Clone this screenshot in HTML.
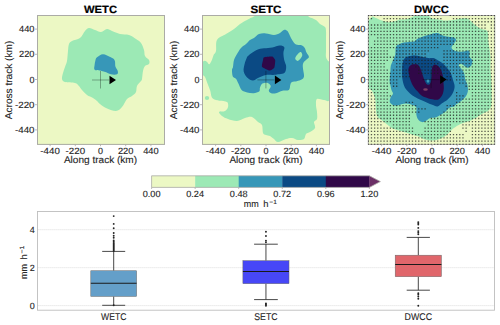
<!DOCTYPE html>
<html><head><meta charset="utf-8"><style>
html,body{margin:0;padding:0;background:#fff;width:500px;height:325px;overflow:hidden;position:relative;font-family:"Liberation Sans",sans-serif;}
</style></head><body>
<svg width="500" height="325" viewBox="0 0 500 325" style="position:absolute;left:0;top:0" text-rendering="geometricPrecision">
<defs><clipPath id="c1"><rect x="37" y="15" width="128" height="130"/></clipPath><clipPath id="c2"><rect x="202" y="15" width="128" height="130"/></clipPath><clipPath id="cd"><rect x="368" y="15.1" width="127" height="129.7"/></clipPath><clipPath id="c3"><rect x="368" y="15" width="127.2" height="130"/></clipPath></defs>
<g clip-path="url(#c1)"><rect x="37" y="15" width="128" height="130" fill="#ecf8c4"/>
<path d="M89.00,28.00C90.67,27.83 93.00,29.33 95.00,30.00C97.00,30.67 99.00,32.17 101.00,32.00C103.00,31.83 105.17,29.17 107.00,29.00C108.83,28.83 109.83,30.17 112.00,31.00C114.17,31.83 117.17,33.33 120.00,34.00C122.83,34.67 126.33,34.17 129.00,35.00C131.67,35.83 134.00,37.67 136.00,39.00C138.00,40.33 139.67,41.17 141.00,43.00C142.33,44.83 143.33,47.83 144.00,50.00C144.67,52.17 144.17,54.33 145.00,56.00C145.83,57.67 148.33,58.67 149.00,60.00C149.67,61.33 149.67,63.00 149.00,64.00C148.33,65.00 146.00,64.83 145.00,66.00C144.00,67.17 143.50,68.83 143.00,71.00C142.50,73.17 142.33,77.33 142.00,79.00C141.67,80.67 141.83,79.83 141.00,81.00C140.17,82.17 137.83,84.17 137.00,86.00C136.17,87.83 136.83,90.33 136.00,92.00C135.17,93.67 133.50,94.83 132.00,96.00C130.50,97.17 128.67,97.17 127.00,99.00C125.33,100.83 123.83,105.00 122.00,107.00C120.17,109.00 118.67,110.83 116.00,111.00C113.33,111.17 108.67,109.17 106.00,108.00C103.33,106.83 101.50,105.17 100.00,104.00C98.50,102.83 98.17,102.00 97.00,101.00C95.83,100.00 94.67,99.00 93.00,98.00C91.33,97.00 88.83,96.33 87.00,95.00C85.17,93.67 83.33,91.50 82.00,90.00C80.67,88.50 80.17,87.17 79.00,86.00C77.83,84.83 77.33,83.67 75.00,83.00C72.67,82.33 67.17,82.67 65.00,82.00C62.83,81.33 62.33,80.50 62.00,79.00C61.67,77.50 62.50,75.00 63.00,73.00C63.50,71.00 64.33,69.00 65.00,67.00C65.67,65.00 66.50,63.67 67.00,61.00C67.50,58.33 67.67,53.83 68.00,51.00C68.33,48.17 68.33,45.67 69.00,44.00C69.67,42.33 70.17,42.00 72.00,41.00C73.83,40.00 77.83,39.67 80.00,38.00C82.17,36.33 83.50,32.67 85.00,31.00C86.50,29.33 87.33,28.17 89.00,28.00Z" fill="#9ce9b5"/>
<path d="M97.00,57.30C98.27,56.27 100.70,54.20 103.00,54.20C105.30,54.20 108.85,56.27 110.80,57.30C112.75,58.33 113.93,58.85 114.70,60.40C115.47,61.95 114.88,64.80 115.40,66.60C115.92,68.40 117.53,69.92 117.80,71.20C118.07,72.48 118.17,73.78 117.00,74.30C115.83,74.82 112.73,74.68 110.80,74.30C108.87,73.92 107.20,72.65 105.40,72.00C103.60,71.35 101.80,70.78 100.00,70.40C98.20,70.02 95.50,70.60 94.60,69.70C93.70,68.80 94.47,66.55 94.60,65.00C94.73,63.45 95.00,61.68 95.40,60.40C95.80,59.12 95.73,58.33 97.00,57.30Z" fill="#3797b8"/>
</g>
<g clip-path="url(#c2)"><rect x="202" y="15" width="128" height="130" fill="#ecf8c4"/>
<path d="M262.00,15.00C270.67,14.58 296.17,14.67 304.00,15.00C311.83,15.33 307.00,16.17 309.00,17.00C311.00,17.83 314.17,18.83 316.00,20.00C317.83,21.17 318.50,22.83 320.00,24.00C321.50,25.17 324.00,25.83 325.00,27.00C326.00,28.17 325.83,29.00 326.00,31.00C326.17,33.00 326.00,35.67 326.00,39.00C326.00,42.33 326.00,48.00 326.00,51.00C326.00,54.00 325.67,55.33 326.00,57.00C326.33,58.67 327.33,59.67 328.00,61.00C328.67,62.33 329.67,58.83 330.00,65.00C330.33,71.17 331.00,92.17 330.00,98.00C329.00,103.83 326.17,99.83 324.00,100.00C321.83,100.17 318.33,98.17 317.00,99.00C315.67,99.83 316.00,102.83 316.00,105.00C316.00,107.17 316.83,109.67 317.00,112.00C317.17,114.33 317.50,117.33 317.00,119.00C316.50,120.67 314.33,120.50 314.00,122.00C313.67,123.50 315.67,126.33 315.00,128.00C314.33,129.67 311.50,131.00 310.00,132.00C308.50,133.00 307.00,132.83 306.00,134.00C305.00,135.17 305.33,138.00 304.00,139.00C302.67,140.00 300.00,140.17 298.00,140.00C296.00,139.83 294.00,138.17 292.00,138.00C290.00,137.83 288.33,138.33 286.00,139.00C283.67,139.67 280.00,142.00 278.00,142.00C276.00,142.00 275.33,140.00 274.00,139.00C272.67,138.00 271.33,136.67 270.00,136.00C268.67,135.33 267.17,135.50 266.00,135.00C264.83,134.50 263.67,134.67 263.00,133.00C262.33,131.33 262.83,126.83 262.00,125.00C261.17,123.17 259.67,123.33 258.00,122.00C256.33,120.67 254.17,117.67 252.00,117.00C249.83,116.33 247.50,117.33 245.00,118.00C242.50,118.67 239.83,120.83 237.00,121.00C234.17,121.17 230.50,119.83 228.00,119.00C225.50,118.17 223.50,117.17 222.00,116.00C220.50,114.83 218.50,112.83 219.00,112.00C219.50,111.17 223.50,111.83 225.00,111.00C226.50,110.17 227.67,108.50 228.00,107.00C228.33,105.50 228.42,103.03 227.00,102.00C225.58,100.97 221.32,101.13 219.50,100.80C217.68,100.47 217.37,100.57 216.10,100.00C214.83,99.43 212.88,98.97 211.90,97.40C210.92,95.83 210.92,92.87 210.20,90.60C209.48,88.33 208.47,86.07 207.60,83.80C206.73,81.53 205.93,78.70 205.00,77.00C204.07,75.30 202.50,75.85 202.00,73.60C201.50,71.35 201.63,65.62 202.00,63.50C202.37,61.38 203.40,61.18 204.20,60.90C205.00,60.62 205.95,61.23 206.80,61.80C207.65,62.37 208.45,64.60 209.30,64.30C210.15,64.00 211.18,61.55 211.90,60.00C212.62,58.45 212.92,56.50 213.60,55.00C214.28,53.50 215.43,53.50 216.00,51.00C216.57,48.50 215.33,42.83 217.00,40.00C218.67,37.17 223.17,35.83 226.00,34.00C228.83,32.17 231.67,30.67 234.00,29.00C236.33,27.33 237.83,25.50 240.00,24.00C242.17,22.50 245.00,21.08 247.00,20.00C249.00,18.92 249.50,18.33 252.00,17.50C254.50,16.67 253.33,15.42 262.00,15.00Z" fill="#9ce9b5"/>
<ellipse cx="207" cy="98" rx="2.2" ry="2" fill="#9ce9b5"/>
<path d="M232.00,70.00C231.97,71.57 232.13,74.93 232.80,76.40C233.47,77.87 235.07,77.60 236.00,78.80C236.93,80.00 237.47,81.73 238.40,83.60C239.33,85.47 240.13,88.53 241.60,90.00C243.07,91.47 245.20,91.87 247.20,92.40C249.20,92.93 251.60,93.33 253.60,93.20C255.60,93.07 258.13,92.53 259.20,91.60C260.27,90.67 259.47,88.93 260.00,87.60C260.53,86.27 261.20,84.40 262.40,83.60C263.60,82.80 265.87,82.53 267.20,82.80C268.53,83.07 269.87,84.40 270.40,85.20C270.93,86.00 270.67,86.67 270.40,87.60C270.13,88.53 268.67,89.87 268.80,90.80C268.93,91.73 270.00,92.80 271.20,93.20C272.40,93.60 274.13,93.60 276.00,93.20C277.87,92.80 280.27,91.33 282.40,90.80C284.53,90.27 287.47,91.07 288.80,90.00C290.13,88.93 289.87,85.73 290.40,84.40C290.93,83.07 290.93,82.53 292.00,82.00C293.07,81.47 295.20,81.60 296.80,81.20C298.40,80.80 300.40,80.40 301.60,79.60C302.80,78.80 303.73,78.00 304.00,76.40C304.27,74.80 303.40,71.92 303.20,70.00C303.00,68.08 302.67,66.27 302.80,64.90C302.93,63.53 303.38,62.72 304.00,61.80C304.62,60.88 305.68,60.22 306.50,59.40C307.32,58.58 308.90,58.03 308.90,56.90C308.90,55.77 307.22,54.13 306.50,52.60C305.78,51.07 305.43,48.93 304.60,47.70C303.77,46.47 302.93,45.72 301.50,45.20C300.07,44.68 297.53,45.42 296.00,44.60C294.47,43.78 293.33,41.83 292.30,40.30C291.27,38.77 290.62,36.93 289.80,35.40C288.98,33.87 288.32,32.03 287.40,31.10C286.48,30.17 285.53,29.50 284.30,29.80C283.07,30.10 281.72,32.03 280.00,32.90C278.28,33.77 276.33,34.92 274.00,35.00C271.67,35.08 268.50,33.57 266.00,33.40C263.50,33.23 261.00,33.23 259.00,34.00C257.00,34.77 255.50,37.00 254.00,38.00C252.50,39.00 251.33,39.00 250.00,40.00C248.67,41.00 247.50,42.67 246.00,44.00C244.50,45.33 242.50,46.33 241.00,48.00C239.50,49.67 238.17,52.00 237.00,54.00C235.83,56.00 234.67,57.83 234.00,60.00C233.33,62.17 233.33,65.33 233.00,67.00C232.67,68.67 232.03,68.43 232.00,70.00Z" fill="#3797b8"/>
<path d="M295.40,57.50C295.82,56.37 297.58,54.12 298.50,53.20C299.42,52.28 300.28,51.58 300.90,52.00C301.52,52.42 302.60,54.27 302.20,55.70C301.80,57.13 299.53,59.88 298.50,60.60C297.47,61.32 296.52,60.52 296.00,60.00C295.48,59.48 294.98,58.63 295.40,57.50Z" fill="#9ce9b5"/>
<path d="M248.30,55.70C249.98,54.30 253.98,51.33 256.60,50.10C259.22,48.87 261.38,48.75 264.00,48.30C266.62,47.85 269.68,47.87 272.30,47.40C274.92,46.93 277.70,45.53 279.70,45.50C281.70,45.47 283.68,45.97 284.30,47.20C284.92,48.43 283.40,50.72 283.40,52.90C283.40,55.08 283.85,58.15 284.30,60.30C284.75,62.45 285.88,64.02 286.10,65.80C286.32,67.58 286.05,69.73 285.60,71.00C285.15,72.27 284.67,72.85 283.40,73.40C282.13,73.95 279.70,74.03 278.00,74.30C276.30,74.57 275.23,74.88 273.20,75.00C271.17,75.12 268.25,74.53 265.80,75.00C263.35,75.47 260.65,76.87 258.50,77.80C256.35,78.73 254.75,80.60 252.90,80.60C251.05,80.60 248.93,79.33 247.40,77.80C245.87,76.27 244.17,73.70 243.70,71.40C243.23,69.10 244.13,66.15 244.60,64.00C245.07,61.85 245.88,59.88 246.50,58.50C247.12,57.12 246.62,57.10 248.30,55.70Z" fill="#0b4a84"/>
<path d="M264.00,57.30C264.77,56.98 271.37,56.25 272.30,56.50C273.23,56.75 275.03,59.37 275.20,60.30C275.37,61.23 274.78,66.84 274.30,67.70C273.82,68.56 270.52,70.67 269.50,70.60C268.48,70.52 262.54,67.66 262.00,66.80C261.46,65.94 262.83,61.09 263.00,60.30C263.17,59.51 263.23,57.62 264.00,57.30Z" fill="#300848"/>
</g>
<g clip-path="url(#c3)"><rect x="368" y="15" width="127.2" height="130" fill="#9ce9b5"/>
<path d="M368.00,15.00 L373.80,15.00 L368.00,21.00Z" fill="#ecf8c4"/>
<path d="M374.00,15.00C368.38,15.67 376.73,18.00 378.30,19.00C379.87,20.00 381.70,20.45 383.40,21.00C385.10,21.55 386.80,22.20 388.50,22.30C390.20,22.40 391.88,22.03 393.60,21.60C395.32,21.17 397.23,20.05 398.80,19.70C400.37,19.35 401.33,19.72 403.00,19.50C404.67,19.28 407.30,19.15 408.80,18.40C410.30,17.65 417.80,15.57 412.00,15.00C406.20,14.43 379.62,14.33 374.00,15.00Z" fill="#ecf8c4"/>
<path d="M428.00,15.00C428.67,15.57 430.40,17.70 432.00,18.40C433.60,19.10 436.00,18.93 437.60,19.20C439.20,19.47 440.18,19.77 441.60,20.00C443.02,20.23 444.20,20.58 446.10,20.60C448.00,20.62 450.72,20.42 453.00,20.10C455.28,19.78 457.55,19.00 459.80,18.70C462.05,18.40 464.70,17.95 466.50,18.30C468.30,18.65 469.23,19.72 470.60,20.80C471.97,21.88 473.35,23.68 474.70,24.80C476.05,25.92 477.35,26.70 478.70,27.50C480.05,28.30 481.45,29.10 482.80,29.60C484.15,30.10 485.90,29.72 486.80,30.50C487.70,31.28 487.97,32.77 488.20,34.30C488.43,35.83 488.08,37.90 488.20,39.70C488.32,41.50 488.67,43.52 488.90,45.10C489.13,46.68 489.38,47.62 489.60,49.20C489.82,50.78 490.03,52.80 490.20,54.60C490.37,56.40 490.57,57.82 490.60,60.00C490.63,62.18 490.33,65.03 490.40,67.70C490.47,70.37 490.82,72.62 491.00,76.00C491.18,79.38 491.40,84.00 491.50,88.00C491.60,92.00 491.70,96.87 491.60,100.00C491.50,103.13 491.47,105.00 490.90,106.80C490.33,108.60 489.55,109.68 488.20,110.80C486.85,111.92 484.60,112.48 482.80,113.50C481.00,114.52 479.67,115.65 477.40,116.90C475.13,118.15 471.92,119.87 469.20,121.00C466.48,122.13 463.63,122.55 461.10,123.70C458.57,124.85 455.77,126.67 454.00,127.90C452.23,129.13 451.73,129.92 450.50,131.10C449.27,132.28 448.10,133.82 446.60,135.00C445.10,136.18 443.43,137.33 441.50,138.20C439.57,139.07 437.17,139.87 435.00,140.20C432.83,140.53 430.43,140.42 428.50,140.20C426.57,139.98 425.12,139.55 423.40,138.90C421.68,138.25 420.13,137.05 418.20,136.30C416.27,135.55 414.17,135.12 411.80,134.40C409.43,133.68 406.95,132.88 404.00,132.00C401.05,131.12 396.65,130.15 394.10,129.10C391.55,128.05 390.73,127.17 388.70,125.70C386.67,124.23 383.82,121.88 381.90,120.30C379.98,118.72 378.22,118.23 377.20,116.20C376.18,114.17 376.13,110.98 375.80,108.10C375.47,105.22 375.80,101.72 375.20,98.90C374.60,96.08 373.35,92.98 372.20,91.20C371.05,89.42 368.95,88.70 368.30,88.20 L368,145 L496,145 L496,15 Z" fill="#ecf8c4"/>
<path d="M396.00,46.50C396.78,44.65 398.60,44.55 399.90,43.90C401.20,43.25 402.30,42.93 403.80,42.60C405.30,42.27 407.20,42.08 408.90,41.90C410.60,41.72 412.48,42.07 414.00,41.50C415.52,40.93 416.50,39.33 418.00,38.50C419.50,37.67 421.33,37.08 423.00,36.50C424.67,35.92 426.33,35.50 428.00,35.00C429.67,34.50 431.50,33.83 433.00,33.50C434.50,33.17 435.83,32.92 437.00,33.00C438.17,33.08 438.83,33.50 440.00,34.00C441.17,34.50 442.33,35.50 444.00,36.00C445.67,36.50 448.33,36.75 450.00,37.00C451.67,37.25 453.00,37.00 454.00,37.50C455.00,38.00 456.00,39.00 456.00,40.00C456.00,41.00 454.75,42.25 454.00,43.50C453.25,44.75 451.45,46.32 451.50,47.50C451.55,48.68 453.00,49.88 454.30,50.60C455.60,51.32 457.55,51.70 459.30,51.80C461.05,51.90 463.33,51.40 464.80,51.20C466.27,51.00 467.27,50.32 468.10,50.60C468.93,50.88 469.60,51.97 469.80,52.90C470.00,53.83 469.12,55.28 469.30,56.20C469.48,57.12 470.35,57.67 470.90,58.40C471.45,59.13 472.42,59.77 472.60,60.60C472.78,61.43 472.28,62.48 472.00,63.40C471.72,64.32 471.55,65.37 470.90,66.10C470.25,66.83 469.02,67.70 468.10,67.80C467.18,67.90 466.32,67.25 465.40,66.70C464.48,66.15 463.53,64.97 462.60,64.50C461.67,64.03 460.45,63.72 459.80,63.90C459.15,64.08 458.60,64.95 458.70,65.60C458.80,66.25 459.75,66.97 460.40,67.80C461.05,68.63 461.95,69.58 462.60,70.60C463.25,71.62 463.83,72.33 464.30,73.90C464.77,75.47 464.92,78.30 465.40,80.00C465.88,81.70 466.78,82.30 467.20,84.10C467.62,85.90 468.12,88.77 467.90,90.80C467.68,92.83 467.03,94.60 465.90,96.30C464.77,98.00 462.75,99.63 461.10,101.00C459.45,102.37 457.18,103.57 456.00,104.50C454.82,105.43 455.13,106.03 454.00,106.60C452.87,107.17 450.65,107.03 449.20,107.90C447.75,108.77 446.92,110.52 445.30,111.80C443.68,113.08 441.22,114.63 439.50,115.60C437.78,116.57 436.62,117.17 435.00,117.60C433.38,118.03 431.30,117.67 429.80,118.20C428.30,118.73 427.28,120.15 426.00,120.80C424.72,121.45 423.40,122.32 422.10,122.10C420.80,121.88 419.17,120.80 418.20,119.50C417.23,118.20 416.62,116.35 416.30,114.30C415.98,112.25 417.18,108.83 416.30,107.20C415.42,105.57 412.72,105.12 411.00,104.50C409.28,103.88 407.60,103.53 406.00,103.50C404.40,103.47 402.93,103.92 401.40,104.30C399.87,104.68 398.20,105.68 396.80,105.80C395.40,105.92 394.17,105.63 393.00,105.00C391.83,104.37 390.20,103.27 389.80,102.00C389.40,100.73 390.07,98.82 390.60,97.40C391.13,95.98 392.87,94.78 393.00,93.50C393.13,92.22 391.93,91.62 391.40,89.70C390.87,87.78 390.07,83.83 389.80,82.00C389.53,80.17 389.72,80.33 389.80,78.70C389.88,77.07 390.13,74.35 390.30,72.20C390.47,70.05 390.43,67.58 390.80,65.80C391.17,64.02 391.77,63.30 392.50,61.50C393.23,59.70 394.62,57.50 395.20,55.00C395.78,52.50 395.22,48.35 396.00,46.50Z" fill="#3797b8"/>
<path d="M402.70,62.50C403.15,60.70 403.77,59.25 404.80,58.20C405.83,57.15 407.13,56.65 408.90,56.20C410.67,55.75 413.23,55.40 415.40,55.50C417.57,55.60 419.75,56.37 421.90,56.80C424.05,57.23 426.37,57.88 428.30,58.10C430.23,58.32 431.77,57.67 433.50,58.10C435.23,58.53 437.18,59.83 438.70,60.70C440.22,61.57 441.30,62.22 442.60,63.30C443.90,64.38 445.38,65.98 446.50,67.20C447.62,68.42 448.47,69.30 449.30,70.60C450.13,71.90 450.88,73.43 451.50,75.00C452.12,76.57 452.48,78.17 453.00,80.00C453.52,81.83 454.52,84.07 454.60,86.00C454.68,87.93 454.10,89.92 453.50,91.60C452.90,93.28 452.02,94.75 451.00,96.10C449.98,97.45 448.90,98.50 447.40,99.70C445.90,100.90 443.65,102.17 442.00,103.30C440.35,104.43 439.00,106.20 437.50,106.50C436.00,106.80 434.80,105.78 433.00,105.10C431.20,104.42 428.80,103.30 426.70,102.40C424.60,101.50 422.35,100.60 420.40,99.70C418.45,98.80 416.73,98.03 415.00,97.00C413.27,95.97 411.58,94.92 410.00,93.50C408.42,92.08 406.63,90.25 405.50,88.50C404.37,86.75 403.77,85.00 403.20,83.00C402.63,81.00 402.28,78.83 402.10,76.50C401.92,74.17 402.00,71.33 402.10,69.00C402.20,66.67 402.25,64.30 402.70,62.50Z" fill="#0b4a84"/>
<path d="M408.90,67.20C409.38,66.00 410.63,65.28 411.50,64.80C412.37,64.32 413.10,64.35 414.10,64.30C415.10,64.25 416.58,64.05 417.50,64.50C418.42,64.95 418.93,65.83 419.60,67.00C420.27,68.17 420.88,69.83 421.50,71.50C422.12,73.17 422.75,75.42 423.30,77.00C423.85,78.58 424.22,79.80 424.80,81.00C425.38,82.20 426.02,83.63 426.80,84.20C427.58,84.77 428.78,84.93 429.50,84.40C430.22,83.87 430.75,82.40 431.10,81.00C431.45,79.60 431.48,77.67 431.60,76.00C431.72,74.33 431.65,72.58 431.80,71.00C431.95,69.42 431.97,67.53 432.50,66.50C433.03,65.47 433.97,64.80 435.00,64.80C436.03,64.80 437.62,65.47 438.70,66.50C439.78,67.53 440.78,69.25 441.50,71.00C442.22,72.75 442.65,74.83 443.00,77.00C443.35,79.17 443.47,82.08 443.60,84.00C443.73,85.92 443.92,86.93 443.80,88.50C443.68,90.07 443.50,91.83 442.90,93.40C442.30,94.97 441.25,96.85 440.20,97.90C439.15,98.95 438.55,99.62 436.60,99.70C434.65,99.78 430.90,99.00 428.50,98.40C426.10,97.80 424.00,97.23 422.20,96.10C420.40,94.97 419.10,93.10 417.70,91.60C416.30,90.10 415.00,88.98 413.80,87.10C412.60,85.22 411.37,82.82 410.50,80.30C409.63,77.78 408.87,74.18 408.60,72.00C408.33,69.82 408.42,68.40 408.90,67.20Z" fill="#300848"/>
<ellipse cx="428" cy="81" rx="1.4" ry="1.7" fill="#3797b8"/>
<ellipse cx="425.5" cy="89.5" rx="2.3" ry="1.2" fill="#7c3f66"/>
</g>
<path d="M92.0,80.0H109.0M100.5,71.0V88.5" stroke="#000" stroke-opacity="0.3" stroke-width="1" fill="none"/>
<path d="M109.5,75.7L116.0,80.0L109.5,84.3Z" fill="#000"/>
<path d="M257.4,79.9H274.4M265.9,70.9V88.4" stroke="#000" stroke-opacity="0.3" stroke-width="1" fill="none"/>
<path d="M274.9,75.6L281.4,79.9L274.9,84.2Z" fill="#000"/>
<path d="M422.6,79.6H439.6M431.1,70.6V88.1" stroke="#000" stroke-opacity="0.3" stroke-width="1" fill="none"/>
<path d="M440.1,75.3L446.6,79.6L440.1,83.9Z" fill="#000"/>
<rect x="37.50" y="15.50" width="127.00" height="128.90" fill="none" stroke="#ababa6" stroke-width="1"/>
<rect x="202.50" y="15.50" width="127.00" height="128.90" fill="none" stroke="#ababa6" stroke-width="1"/>
<rect x="368.30" y="15.50" width="126.40" height="128.90" fill="none" stroke="#ababa6" stroke-width="1"/>
<g clip-path="url(#cd)"><path d="M367.65,14.65h1.3v1.3h-1.3zM367.65,17.88h1.3v1.3h-1.3zM367.65,21.10h1.3v1.3h-1.3zM367.65,24.33h1.3v1.3h-1.3zM367.65,27.55h1.3v1.3h-1.3zM367.65,30.78h1.3v1.3h-1.3zM367.65,34.00h1.3v1.3h-1.3zM367.65,37.23h1.3v1.3h-1.3zM367.65,40.45h1.3v1.3h-1.3zM367.65,43.68h1.3v1.3h-1.3zM367.65,46.90h1.3v1.3h-1.3zM367.65,50.13h1.3v1.3h-1.3zM367.65,53.35h1.3v1.3h-1.3zM367.65,56.58h1.3v1.3h-1.3zM367.65,59.80h1.3v1.3h-1.3zM367.65,63.02h1.3v1.3h-1.3zM367.65,66.25h1.3v1.3h-1.3zM367.65,69.47h1.3v1.3h-1.3zM367.65,72.70h1.3v1.3h-1.3zM367.65,75.92h1.3v1.3h-1.3zM367.65,79.15h1.3v1.3h-1.3zM367.65,82.38h1.3v1.3h-1.3zM367.65,85.60h1.3v1.3h-1.3zM367.65,88.82h1.3v1.3h-1.3zM367.65,92.05h1.3v1.3h-1.3zM367.65,95.27h1.3v1.3h-1.3zM367.65,98.50h1.3v1.3h-1.3zM367.65,101.72h1.3v1.3h-1.3zM367.65,104.95h1.3v1.3h-1.3zM367.65,108.17h1.3v1.3h-1.3zM367.65,111.40h1.3v1.3h-1.3zM367.65,114.62h1.3v1.3h-1.3zM367.65,117.85h1.3v1.3h-1.3zM367.65,121.07h1.3v1.3h-1.3zM367.65,124.30h1.3v1.3h-1.3zM367.65,127.53h1.3v1.3h-1.3zM367.65,130.75h1.3v1.3h-1.3zM367.65,133.97h1.3v1.3h-1.3zM367.65,137.20h1.3v1.3h-1.3zM367.65,140.43h1.3v1.3h-1.3zM367.65,143.65h1.3v1.3h-1.3zM370.81,14.65h1.3v1.3h-1.3zM370.81,17.88h1.3v1.3h-1.3zM370.81,24.33h1.3v1.3h-1.3zM370.81,27.55h1.3v1.3h-1.3zM370.81,30.78h1.3v1.3h-1.3zM370.81,34.00h1.3v1.3h-1.3zM370.81,46.90h1.3v1.3h-1.3zM370.81,50.13h1.3v1.3h-1.3zM370.81,53.35h1.3v1.3h-1.3zM370.81,56.58h1.3v1.3h-1.3zM370.81,59.80h1.3v1.3h-1.3zM370.81,63.02h1.3v1.3h-1.3zM370.81,66.25h1.3v1.3h-1.3zM370.81,69.47h1.3v1.3h-1.3zM370.81,72.70h1.3v1.3h-1.3zM370.81,75.92h1.3v1.3h-1.3zM370.81,79.15h1.3v1.3h-1.3zM370.81,82.38h1.3v1.3h-1.3zM370.81,85.60h1.3v1.3h-1.3zM370.81,88.82h1.3v1.3h-1.3zM370.81,92.05h1.3v1.3h-1.3zM370.81,95.27h1.3v1.3h-1.3zM370.81,98.50h1.3v1.3h-1.3zM370.81,101.72h1.3v1.3h-1.3zM370.81,104.95h1.3v1.3h-1.3zM370.81,108.17h1.3v1.3h-1.3zM370.81,111.40h1.3v1.3h-1.3zM370.81,114.62h1.3v1.3h-1.3zM370.81,117.85h1.3v1.3h-1.3zM370.81,121.07h1.3v1.3h-1.3zM370.81,124.30h1.3v1.3h-1.3zM370.81,127.53h1.3v1.3h-1.3zM370.81,130.75h1.3v1.3h-1.3zM370.81,133.97h1.3v1.3h-1.3zM370.81,137.20h1.3v1.3h-1.3zM370.81,140.43h1.3v1.3h-1.3zM370.81,143.65h1.3v1.3h-1.3zM373.96,14.65h1.3v1.3h-1.3zM373.96,24.33h1.3v1.3h-1.3zM373.96,27.55h1.3v1.3h-1.3zM373.96,30.78h1.3v1.3h-1.3zM373.96,34.00h1.3v1.3h-1.3zM373.96,40.45h1.3v1.3h-1.3zM373.96,43.68h1.3v1.3h-1.3zM373.96,46.90h1.3v1.3h-1.3zM373.96,50.13h1.3v1.3h-1.3zM373.96,53.35h1.3v1.3h-1.3zM373.96,56.58h1.3v1.3h-1.3zM373.96,59.80h1.3v1.3h-1.3zM373.96,63.02h1.3v1.3h-1.3zM373.96,66.25h1.3v1.3h-1.3zM373.96,69.47h1.3v1.3h-1.3zM373.96,72.70h1.3v1.3h-1.3zM373.96,75.92h1.3v1.3h-1.3zM373.96,79.15h1.3v1.3h-1.3zM373.96,82.38h1.3v1.3h-1.3zM373.96,85.60h1.3v1.3h-1.3zM373.96,88.82h1.3v1.3h-1.3zM373.96,92.05h1.3v1.3h-1.3zM373.96,95.27h1.3v1.3h-1.3zM373.96,98.50h1.3v1.3h-1.3zM373.96,101.72h1.3v1.3h-1.3zM373.96,104.95h1.3v1.3h-1.3zM373.96,108.17h1.3v1.3h-1.3zM373.96,111.40h1.3v1.3h-1.3zM373.96,114.62h1.3v1.3h-1.3zM373.96,117.85h1.3v1.3h-1.3zM373.96,121.07h1.3v1.3h-1.3zM373.96,124.30h1.3v1.3h-1.3zM373.96,127.53h1.3v1.3h-1.3zM373.96,130.75h1.3v1.3h-1.3zM373.96,133.97h1.3v1.3h-1.3zM373.96,137.20h1.3v1.3h-1.3zM373.96,140.43h1.3v1.3h-1.3zM373.96,143.65h1.3v1.3h-1.3zM377.12,14.65h1.3v1.3h-1.3zM377.12,24.33h1.3v1.3h-1.3zM377.12,27.55h1.3v1.3h-1.3zM377.12,30.78h1.3v1.3h-1.3zM377.12,34.00h1.3v1.3h-1.3zM377.12,37.23h1.3v1.3h-1.3zM377.12,40.45h1.3v1.3h-1.3zM377.12,43.68h1.3v1.3h-1.3zM377.12,46.90h1.3v1.3h-1.3zM377.12,50.13h1.3v1.3h-1.3zM377.12,53.35h1.3v1.3h-1.3zM377.12,56.58h1.3v1.3h-1.3zM377.12,59.80h1.3v1.3h-1.3zM377.12,63.02h1.3v1.3h-1.3zM377.12,66.25h1.3v1.3h-1.3zM377.12,69.47h1.3v1.3h-1.3zM377.12,72.70h1.3v1.3h-1.3zM377.12,75.92h1.3v1.3h-1.3zM377.12,79.15h1.3v1.3h-1.3zM377.12,82.38h1.3v1.3h-1.3zM377.12,85.60h1.3v1.3h-1.3zM377.12,88.82h1.3v1.3h-1.3zM377.12,92.05h1.3v1.3h-1.3zM377.12,95.27h1.3v1.3h-1.3zM377.12,98.50h1.3v1.3h-1.3zM377.12,101.72h1.3v1.3h-1.3zM377.12,104.95h1.3v1.3h-1.3zM377.12,108.17h1.3v1.3h-1.3zM377.12,111.40h1.3v1.3h-1.3zM377.12,114.62h1.3v1.3h-1.3zM377.12,117.85h1.3v1.3h-1.3zM377.12,121.07h1.3v1.3h-1.3zM377.12,124.30h1.3v1.3h-1.3zM377.12,127.53h1.3v1.3h-1.3zM377.12,130.75h1.3v1.3h-1.3zM377.12,133.97h1.3v1.3h-1.3zM377.12,137.20h1.3v1.3h-1.3zM377.12,140.43h1.3v1.3h-1.3zM377.12,143.65h1.3v1.3h-1.3zM380.27,14.65h1.3v1.3h-1.3zM380.27,24.33h1.3v1.3h-1.3zM380.27,27.55h1.3v1.3h-1.3zM380.27,30.78h1.3v1.3h-1.3zM380.27,34.00h1.3v1.3h-1.3zM380.27,37.23h1.3v1.3h-1.3zM380.27,40.45h1.3v1.3h-1.3zM380.27,43.68h1.3v1.3h-1.3zM380.27,46.90h1.3v1.3h-1.3zM380.27,50.13h1.3v1.3h-1.3zM380.27,53.35h1.3v1.3h-1.3zM380.27,56.58h1.3v1.3h-1.3zM380.27,59.80h1.3v1.3h-1.3zM380.27,63.02h1.3v1.3h-1.3zM380.27,66.25h1.3v1.3h-1.3zM380.27,69.47h1.3v1.3h-1.3zM380.27,72.70h1.3v1.3h-1.3zM380.27,75.92h1.3v1.3h-1.3zM380.27,79.15h1.3v1.3h-1.3zM380.27,82.38h1.3v1.3h-1.3zM380.27,85.60h1.3v1.3h-1.3zM380.27,88.82h1.3v1.3h-1.3zM380.27,92.05h1.3v1.3h-1.3zM380.27,95.27h1.3v1.3h-1.3zM380.27,98.50h1.3v1.3h-1.3zM380.27,101.72h1.3v1.3h-1.3zM380.27,104.95h1.3v1.3h-1.3zM380.27,108.17h1.3v1.3h-1.3zM380.27,111.40h1.3v1.3h-1.3zM380.27,114.62h1.3v1.3h-1.3zM380.27,117.85h1.3v1.3h-1.3zM380.27,121.07h1.3v1.3h-1.3zM380.27,124.30h1.3v1.3h-1.3zM380.27,127.53h1.3v1.3h-1.3zM380.27,130.75h1.3v1.3h-1.3zM380.27,133.97h1.3v1.3h-1.3zM380.27,137.20h1.3v1.3h-1.3zM380.27,140.43h1.3v1.3h-1.3zM380.27,143.65h1.3v1.3h-1.3zM383.43,14.65h1.3v1.3h-1.3zM383.43,17.88h1.3v1.3h-1.3zM383.43,21.10h1.3v1.3h-1.3zM383.43,24.33h1.3v1.3h-1.3zM383.43,27.55h1.3v1.3h-1.3zM383.43,30.78h1.3v1.3h-1.3zM383.43,34.00h1.3v1.3h-1.3zM383.43,37.23h1.3v1.3h-1.3zM383.43,40.45h1.3v1.3h-1.3zM383.43,43.68h1.3v1.3h-1.3zM383.43,46.90h1.3v1.3h-1.3zM383.43,50.13h1.3v1.3h-1.3zM383.43,53.35h1.3v1.3h-1.3zM383.43,56.58h1.3v1.3h-1.3zM383.43,59.80h1.3v1.3h-1.3zM383.43,63.02h1.3v1.3h-1.3zM383.43,66.25h1.3v1.3h-1.3zM383.43,69.47h1.3v1.3h-1.3zM383.43,72.70h1.3v1.3h-1.3zM383.43,75.92h1.3v1.3h-1.3zM383.43,79.15h1.3v1.3h-1.3zM383.43,82.38h1.3v1.3h-1.3zM383.43,85.60h1.3v1.3h-1.3zM383.43,88.82h1.3v1.3h-1.3zM383.43,92.05h1.3v1.3h-1.3zM383.43,95.27h1.3v1.3h-1.3zM383.43,98.50h1.3v1.3h-1.3zM383.43,101.72h1.3v1.3h-1.3zM383.43,104.95h1.3v1.3h-1.3zM383.43,108.17h1.3v1.3h-1.3zM383.43,111.40h1.3v1.3h-1.3zM383.43,114.62h1.3v1.3h-1.3zM383.43,117.85h1.3v1.3h-1.3zM383.43,121.07h1.3v1.3h-1.3zM383.43,127.53h1.3v1.3h-1.3zM383.43,130.75h1.3v1.3h-1.3zM383.43,133.97h1.3v1.3h-1.3zM383.43,137.20h1.3v1.3h-1.3zM383.43,140.43h1.3v1.3h-1.3zM383.43,143.65h1.3v1.3h-1.3zM386.58,14.65h1.3v1.3h-1.3zM386.58,17.88h1.3v1.3h-1.3zM386.58,21.10h1.3v1.3h-1.3zM386.58,24.33h1.3v1.3h-1.3zM386.58,27.55h1.3v1.3h-1.3zM386.58,30.78h1.3v1.3h-1.3zM386.58,34.00h1.3v1.3h-1.3zM386.58,37.23h1.3v1.3h-1.3zM386.58,40.45h1.3v1.3h-1.3zM386.58,43.68h1.3v1.3h-1.3zM386.58,46.90h1.3v1.3h-1.3zM386.58,50.13h1.3v1.3h-1.3zM386.58,53.35h1.3v1.3h-1.3zM386.58,56.58h1.3v1.3h-1.3zM386.58,59.80h1.3v1.3h-1.3zM386.58,69.47h1.3v1.3h-1.3zM386.58,72.70h1.3v1.3h-1.3zM386.58,75.92h1.3v1.3h-1.3zM386.58,79.15h1.3v1.3h-1.3zM386.58,82.38h1.3v1.3h-1.3zM386.58,85.60h1.3v1.3h-1.3zM386.58,88.82h1.3v1.3h-1.3zM386.58,92.05h1.3v1.3h-1.3zM386.58,95.27h1.3v1.3h-1.3zM386.58,98.50h1.3v1.3h-1.3zM386.58,101.72h1.3v1.3h-1.3zM386.58,104.95h1.3v1.3h-1.3zM386.58,108.17h1.3v1.3h-1.3zM386.58,111.40h1.3v1.3h-1.3zM386.58,114.62h1.3v1.3h-1.3zM386.58,117.85h1.3v1.3h-1.3zM386.58,121.07h1.3v1.3h-1.3zM386.58,127.53h1.3v1.3h-1.3zM386.58,130.75h1.3v1.3h-1.3zM386.58,133.97h1.3v1.3h-1.3zM386.58,137.20h1.3v1.3h-1.3zM386.58,140.43h1.3v1.3h-1.3zM386.58,143.65h1.3v1.3h-1.3zM389.74,14.65h1.3v1.3h-1.3zM389.74,17.88h1.3v1.3h-1.3zM389.74,21.10h1.3v1.3h-1.3zM389.74,24.33h1.3v1.3h-1.3zM389.74,27.55h1.3v1.3h-1.3zM389.74,30.78h1.3v1.3h-1.3zM389.74,34.00h1.3v1.3h-1.3zM389.74,37.23h1.3v1.3h-1.3zM389.74,40.45h1.3v1.3h-1.3zM389.74,43.68h1.3v1.3h-1.3zM389.74,46.90h1.3v1.3h-1.3zM389.74,56.58h1.3v1.3h-1.3zM389.74,72.70h1.3v1.3h-1.3zM389.74,75.92h1.3v1.3h-1.3zM389.74,79.15h1.3v1.3h-1.3zM389.74,82.38h1.3v1.3h-1.3zM389.74,95.27h1.3v1.3h-1.3zM389.74,104.95h1.3v1.3h-1.3zM389.74,108.17h1.3v1.3h-1.3zM389.74,111.40h1.3v1.3h-1.3zM389.74,114.62h1.3v1.3h-1.3zM389.74,117.85h1.3v1.3h-1.3zM389.74,121.07h1.3v1.3h-1.3zM389.74,127.53h1.3v1.3h-1.3zM389.74,130.75h1.3v1.3h-1.3zM389.74,133.97h1.3v1.3h-1.3zM389.74,137.20h1.3v1.3h-1.3zM389.74,140.43h1.3v1.3h-1.3zM389.74,143.65h1.3v1.3h-1.3zM392.89,14.65h1.3v1.3h-1.3zM392.89,17.88h1.3v1.3h-1.3zM392.89,21.10h1.3v1.3h-1.3zM392.89,24.33h1.3v1.3h-1.3zM392.89,27.55h1.3v1.3h-1.3zM392.89,30.78h1.3v1.3h-1.3zM392.89,34.00h1.3v1.3h-1.3zM392.89,37.23h1.3v1.3h-1.3zM392.89,40.45h1.3v1.3h-1.3zM392.89,43.68h1.3v1.3h-1.3zM392.89,46.90h1.3v1.3h-1.3zM392.89,56.58h1.3v1.3h-1.3zM392.89,59.80h1.3v1.3h-1.3zM392.89,69.47h1.3v1.3h-1.3zM392.89,72.70h1.3v1.3h-1.3zM392.89,75.92h1.3v1.3h-1.3zM392.89,79.15h1.3v1.3h-1.3zM392.89,82.38h1.3v1.3h-1.3zM392.89,85.60h1.3v1.3h-1.3zM392.89,104.95h1.3v1.3h-1.3zM392.89,108.17h1.3v1.3h-1.3zM392.89,111.40h1.3v1.3h-1.3zM392.89,114.62h1.3v1.3h-1.3zM392.89,117.85h1.3v1.3h-1.3zM392.89,121.07h1.3v1.3h-1.3zM392.89,124.30h1.3v1.3h-1.3zM392.89,127.53h1.3v1.3h-1.3zM392.89,130.75h1.3v1.3h-1.3zM392.89,133.97h1.3v1.3h-1.3zM392.89,137.20h1.3v1.3h-1.3zM392.89,140.43h1.3v1.3h-1.3zM392.89,143.65h1.3v1.3h-1.3zM396.05,14.65h1.3v1.3h-1.3zM396.05,17.88h1.3v1.3h-1.3zM396.05,21.10h1.3v1.3h-1.3zM396.05,24.33h1.3v1.3h-1.3zM396.05,27.55h1.3v1.3h-1.3zM396.05,30.78h1.3v1.3h-1.3zM396.05,34.00h1.3v1.3h-1.3zM396.05,37.23h1.3v1.3h-1.3zM396.05,40.45h1.3v1.3h-1.3zM396.05,43.68h1.3v1.3h-1.3zM396.05,46.90h1.3v1.3h-1.3zM396.05,50.13h1.3v1.3h-1.3zM396.05,53.35h1.3v1.3h-1.3zM396.05,56.58h1.3v1.3h-1.3zM396.05,59.80h1.3v1.3h-1.3zM396.05,63.02h1.3v1.3h-1.3zM396.05,66.25h1.3v1.3h-1.3zM396.05,69.47h1.3v1.3h-1.3zM396.05,72.70h1.3v1.3h-1.3zM396.05,75.92h1.3v1.3h-1.3zM396.05,79.15h1.3v1.3h-1.3zM396.05,82.38h1.3v1.3h-1.3zM396.05,85.60h1.3v1.3h-1.3zM396.05,104.95h1.3v1.3h-1.3zM396.05,108.17h1.3v1.3h-1.3zM396.05,111.40h1.3v1.3h-1.3zM396.05,114.62h1.3v1.3h-1.3zM396.05,117.85h1.3v1.3h-1.3zM396.05,121.07h1.3v1.3h-1.3zM396.05,124.30h1.3v1.3h-1.3zM396.05,127.53h1.3v1.3h-1.3zM396.05,130.75h1.3v1.3h-1.3zM396.05,133.97h1.3v1.3h-1.3zM396.05,137.20h1.3v1.3h-1.3zM396.05,140.43h1.3v1.3h-1.3zM396.05,143.65h1.3v1.3h-1.3zM399.20,14.65h1.3v1.3h-1.3zM399.20,17.88h1.3v1.3h-1.3zM399.20,21.10h1.3v1.3h-1.3zM399.20,24.33h1.3v1.3h-1.3zM399.20,27.55h1.3v1.3h-1.3zM399.20,30.78h1.3v1.3h-1.3zM399.20,34.00h1.3v1.3h-1.3zM399.20,37.23h1.3v1.3h-1.3zM399.20,40.45h1.3v1.3h-1.3zM399.20,43.68h1.3v1.3h-1.3zM399.20,46.90h1.3v1.3h-1.3zM399.20,50.13h1.3v1.3h-1.3zM399.20,53.35h1.3v1.3h-1.3zM399.20,56.58h1.3v1.3h-1.3zM399.20,59.80h1.3v1.3h-1.3zM399.20,63.02h1.3v1.3h-1.3zM399.20,66.25h1.3v1.3h-1.3zM399.20,69.47h1.3v1.3h-1.3zM399.20,72.70h1.3v1.3h-1.3zM399.20,75.92h1.3v1.3h-1.3zM399.20,104.95h1.3v1.3h-1.3zM399.20,108.17h1.3v1.3h-1.3zM399.20,111.40h1.3v1.3h-1.3zM399.20,114.62h1.3v1.3h-1.3zM399.20,117.85h1.3v1.3h-1.3zM399.20,121.07h1.3v1.3h-1.3zM399.20,124.30h1.3v1.3h-1.3zM399.20,127.53h1.3v1.3h-1.3zM399.20,130.75h1.3v1.3h-1.3zM399.20,133.97h1.3v1.3h-1.3zM399.20,137.20h1.3v1.3h-1.3zM399.20,140.43h1.3v1.3h-1.3zM399.20,143.65h1.3v1.3h-1.3zM402.36,14.65h1.3v1.3h-1.3zM402.36,17.88h1.3v1.3h-1.3zM402.36,21.10h1.3v1.3h-1.3zM402.36,24.33h1.3v1.3h-1.3zM402.36,27.55h1.3v1.3h-1.3zM402.36,30.78h1.3v1.3h-1.3zM402.36,34.00h1.3v1.3h-1.3zM402.36,37.23h1.3v1.3h-1.3zM402.36,40.45h1.3v1.3h-1.3zM402.36,43.68h1.3v1.3h-1.3zM402.36,46.90h1.3v1.3h-1.3zM402.36,50.13h1.3v1.3h-1.3zM402.36,53.35h1.3v1.3h-1.3zM402.36,56.58h1.3v1.3h-1.3zM402.36,59.80h1.3v1.3h-1.3zM402.36,63.02h1.3v1.3h-1.3zM402.36,66.25h1.3v1.3h-1.3zM402.36,69.47h1.3v1.3h-1.3zM402.36,72.70h1.3v1.3h-1.3zM402.36,75.92h1.3v1.3h-1.3zM402.36,104.95h1.3v1.3h-1.3zM402.36,108.17h1.3v1.3h-1.3zM402.36,111.40h1.3v1.3h-1.3zM402.36,114.62h1.3v1.3h-1.3zM402.36,117.85h1.3v1.3h-1.3zM402.36,121.07h1.3v1.3h-1.3zM402.36,124.30h1.3v1.3h-1.3zM402.36,127.53h1.3v1.3h-1.3zM402.36,130.75h1.3v1.3h-1.3zM402.36,133.97h1.3v1.3h-1.3zM402.36,137.20h1.3v1.3h-1.3zM402.36,140.43h1.3v1.3h-1.3zM402.36,143.65h1.3v1.3h-1.3zM405.51,14.65h1.3v1.3h-1.3zM405.51,17.88h1.3v1.3h-1.3zM405.51,21.10h1.3v1.3h-1.3zM405.51,24.33h1.3v1.3h-1.3zM405.51,27.55h1.3v1.3h-1.3zM405.51,30.78h1.3v1.3h-1.3zM405.51,34.00h1.3v1.3h-1.3zM405.51,37.23h1.3v1.3h-1.3zM405.51,40.45h1.3v1.3h-1.3zM405.51,43.68h1.3v1.3h-1.3zM405.51,46.90h1.3v1.3h-1.3zM405.51,50.13h1.3v1.3h-1.3zM405.51,53.35h1.3v1.3h-1.3zM405.51,56.58h1.3v1.3h-1.3zM405.51,59.80h1.3v1.3h-1.3zM405.51,63.02h1.3v1.3h-1.3zM405.51,69.47h1.3v1.3h-1.3zM405.51,72.70h1.3v1.3h-1.3zM405.51,75.92h1.3v1.3h-1.3zM405.51,101.72h1.3v1.3h-1.3zM405.51,104.95h1.3v1.3h-1.3zM405.51,108.17h1.3v1.3h-1.3zM405.51,111.40h1.3v1.3h-1.3zM405.51,114.62h1.3v1.3h-1.3zM405.51,117.85h1.3v1.3h-1.3zM405.51,121.07h1.3v1.3h-1.3zM405.51,124.30h1.3v1.3h-1.3zM405.51,127.53h1.3v1.3h-1.3zM405.51,130.75h1.3v1.3h-1.3zM405.51,133.97h1.3v1.3h-1.3zM405.51,137.20h1.3v1.3h-1.3zM405.51,140.43h1.3v1.3h-1.3zM405.51,143.65h1.3v1.3h-1.3zM408.67,14.65h1.3v1.3h-1.3zM408.67,17.88h1.3v1.3h-1.3zM408.67,21.10h1.3v1.3h-1.3zM408.67,24.33h1.3v1.3h-1.3zM408.67,27.55h1.3v1.3h-1.3zM408.67,30.78h1.3v1.3h-1.3zM408.67,34.00h1.3v1.3h-1.3zM408.67,37.23h1.3v1.3h-1.3zM408.67,40.45h1.3v1.3h-1.3zM408.67,43.68h1.3v1.3h-1.3zM408.67,46.90h1.3v1.3h-1.3zM408.67,50.13h1.3v1.3h-1.3zM408.67,53.35h1.3v1.3h-1.3zM408.67,56.58h1.3v1.3h-1.3zM408.67,59.80h1.3v1.3h-1.3zM408.67,63.02h1.3v1.3h-1.3zM408.67,69.47h1.3v1.3h-1.3zM408.67,72.70h1.3v1.3h-1.3zM408.67,75.92h1.3v1.3h-1.3zM408.67,101.72h1.3v1.3h-1.3zM408.67,104.95h1.3v1.3h-1.3zM408.67,108.17h1.3v1.3h-1.3zM408.67,111.40h1.3v1.3h-1.3zM408.67,114.62h1.3v1.3h-1.3zM408.67,117.85h1.3v1.3h-1.3zM408.67,121.07h1.3v1.3h-1.3zM408.67,124.30h1.3v1.3h-1.3zM408.67,127.53h1.3v1.3h-1.3zM408.67,130.75h1.3v1.3h-1.3zM408.67,133.97h1.3v1.3h-1.3zM408.67,137.20h1.3v1.3h-1.3zM408.67,140.43h1.3v1.3h-1.3zM408.67,143.65h1.3v1.3h-1.3zM411.82,14.65h1.3v1.3h-1.3zM411.82,17.88h1.3v1.3h-1.3zM411.82,21.10h1.3v1.3h-1.3zM411.82,24.33h1.3v1.3h-1.3zM411.82,27.55h1.3v1.3h-1.3zM411.82,30.78h1.3v1.3h-1.3zM411.82,34.00h1.3v1.3h-1.3zM411.82,37.23h1.3v1.3h-1.3zM411.82,40.45h1.3v1.3h-1.3zM411.82,43.68h1.3v1.3h-1.3zM411.82,46.90h1.3v1.3h-1.3zM411.82,50.13h1.3v1.3h-1.3zM411.82,53.35h1.3v1.3h-1.3zM411.82,56.58h1.3v1.3h-1.3zM411.82,59.80h1.3v1.3h-1.3zM411.82,63.02h1.3v1.3h-1.3zM411.82,101.72h1.3v1.3h-1.3zM411.82,104.95h1.3v1.3h-1.3zM411.82,108.17h1.3v1.3h-1.3zM411.82,111.40h1.3v1.3h-1.3zM411.82,127.53h1.3v1.3h-1.3zM411.82,130.75h1.3v1.3h-1.3zM411.82,133.97h1.3v1.3h-1.3zM411.82,137.20h1.3v1.3h-1.3zM411.82,140.43h1.3v1.3h-1.3zM411.82,143.65h1.3v1.3h-1.3zM414.98,14.65h1.3v1.3h-1.3zM414.98,17.88h1.3v1.3h-1.3zM414.98,21.10h1.3v1.3h-1.3zM414.98,24.33h1.3v1.3h-1.3zM414.98,27.55h1.3v1.3h-1.3zM414.98,30.78h1.3v1.3h-1.3zM414.98,34.00h1.3v1.3h-1.3zM414.98,37.23h1.3v1.3h-1.3zM414.98,40.45h1.3v1.3h-1.3zM414.98,43.68h1.3v1.3h-1.3zM414.98,46.90h1.3v1.3h-1.3zM414.98,50.13h1.3v1.3h-1.3zM414.98,53.35h1.3v1.3h-1.3zM414.98,56.58h1.3v1.3h-1.3zM414.98,59.80h1.3v1.3h-1.3zM414.98,63.02h1.3v1.3h-1.3zM414.98,66.25h1.3v1.3h-1.3zM414.98,104.95h1.3v1.3h-1.3zM414.98,108.17h1.3v1.3h-1.3zM414.98,111.40h1.3v1.3h-1.3zM414.98,133.97h1.3v1.3h-1.3zM414.98,137.20h1.3v1.3h-1.3zM414.98,140.43h1.3v1.3h-1.3zM414.98,143.65h1.3v1.3h-1.3zM418.13,14.65h1.3v1.3h-1.3zM418.13,17.88h1.3v1.3h-1.3zM418.13,21.10h1.3v1.3h-1.3zM418.13,24.33h1.3v1.3h-1.3zM418.13,27.55h1.3v1.3h-1.3zM418.13,30.78h1.3v1.3h-1.3zM418.13,34.00h1.3v1.3h-1.3zM418.13,37.23h1.3v1.3h-1.3zM418.13,40.45h1.3v1.3h-1.3zM418.13,43.68h1.3v1.3h-1.3zM418.13,46.90h1.3v1.3h-1.3zM418.13,50.13h1.3v1.3h-1.3zM418.13,53.35h1.3v1.3h-1.3zM418.13,56.58h1.3v1.3h-1.3zM418.13,59.80h1.3v1.3h-1.3zM418.13,63.02h1.3v1.3h-1.3zM418.13,66.25h1.3v1.3h-1.3zM418.13,69.47h1.3v1.3h-1.3zM418.13,72.70h1.3v1.3h-1.3zM418.13,108.17h1.3v1.3h-1.3zM418.13,111.40h1.3v1.3h-1.3zM418.13,133.97h1.3v1.3h-1.3zM418.13,137.20h1.3v1.3h-1.3zM418.13,140.43h1.3v1.3h-1.3zM418.13,143.65h1.3v1.3h-1.3zM421.29,14.65h1.3v1.3h-1.3zM421.29,17.88h1.3v1.3h-1.3zM421.29,21.10h1.3v1.3h-1.3zM421.29,24.33h1.3v1.3h-1.3zM421.29,27.55h1.3v1.3h-1.3zM421.29,30.78h1.3v1.3h-1.3zM421.29,34.00h1.3v1.3h-1.3zM421.29,37.23h1.3v1.3h-1.3zM421.29,40.45h1.3v1.3h-1.3zM421.29,43.68h1.3v1.3h-1.3zM421.29,46.90h1.3v1.3h-1.3zM421.29,50.13h1.3v1.3h-1.3zM421.29,53.35h1.3v1.3h-1.3zM421.29,56.58h1.3v1.3h-1.3zM421.29,59.80h1.3v1.3h-1.3zM421.29,63.02h1.3v1.3h-1.3zM421.29,66.25h1.3v1.3h-1.3zM421.29,69.47h1.3v1.3h-1.3zM421.29,72.70h1.3v1.3h-1.3zM421.29,108.17h1.3v1.3h-1.3zM421.29,133.97h1.3v1.3h-1.3zM421.29,137.20h1.3v1.3h-1.3zM421.29,140.43h1.3v1.3h-1.3zM421.29,143.65h1.3v1.3h-1.3zM424.44,14.65h1.3v1.3h-1.3zM424.44,17.88h1.3v1.3h-1.3zM424.44,21.10h1.3v1.3h-1.3zM424.44,24.33h1.3v1.3h-1.3zM424.44,27.55h1.3v1.3h-1.3zM424.44,30.78h1.3v1.3h-1.3zM424.44,34.00h1.3v1.3h-1.3zM424.44,37.23h1.3v1.3h-1.3zM424.44,40.45h1.3v1.3h-1.3zM424.44,43.68h1.3v1.3h-1.3zM424.44,46.90h1.3v1.3h-1.3zM424.44,50.13h1.3v1.3h-1.3zM424.44,53.35h1.3v1.3h-1.3zM424.44,56.58h1.3v1.3h-1.3zM424.44,59.80h1.3v1.3h-1.3zM424.44,63.02h1.3v1.3h-1.3zM424.44,66.25h1.3v1.3h-1.3zM424.44,69.47h1.3v1.3h-1.3zM424.44,72.70h1.3v1.3h-1.3zM424.44,108.17h1.3v1.3h-1.3zM424.44,121.07h1.3v1.3h-1.3zM424.44,127.53h1.3v1.3h-1.3zM424.44,130.75h1.3v1.3h-1.3zM424.44,133.97h1.3v1.3h-1.3zM424.44,137.20h1.3v1.3h-1.3zM424.44,140.43h1.3v1.3h-1.3zM424.44,143.65h1.3v1.3h-1.3zM427.60,14.65h1.3v1.3h-1.3zM427.60,17.88h1.3v1.3h-1.3zM427.60,21.10h1.3v1.3h-1.3zM427.60,24.33h1.3v1.3h-1.3zM427.60,27.55h1.3v1.3h-1.3zM427.60,30.78h1.3v1.3h-1.3zM427.60,34.00h1.3v1.3h-1.3zM427.60,37.23h1.3v1.3h-1.3zM427.60,40.45h1.3v1.3h-1.3zM427.60,43.68h1.3v1.3h-1.3zM427.60,46.90h1.3v1.3h-1.3zM427.60,50.13h1.3v1.3h-1.3zM427.60,59.80h1.3v1.3h-1.3zM427.60,63.02h1.3v1.3h-1.3zM427.60,66.25h1.3v1.3h-1.3zM427.60,69.47h1.3v1.3h-1.3zM427.60,72.70h1.3v1.3h-1.3zM427.60,121.07h1.3v1.3h-1.3zM427.60,124.30h1.3v1.3h-1.3zM427.60,127.53h1.3v1.3h-1.3zM427.60,130.75h1.3v1.3h-1.3zM427.60,133.97h1.3v1.3h-1.3zM427.60,137.20h1.3v1.3h-1.3zM427.60,140.43h1.3v1.3h-1.3zM427.60,143.65h1.3v1.3h-1.3zM430.75,14.65h1.3v1.3h-1.3zM430.75,17.88h1.3v1.3h-1.3zM430.75,21.10h1.3v1.3h-1.3zM430.75,24.33h1.3v1.3h-1.3zM430.75,27.55h1.3v1.3h-1.3zM430.75,30.78h1.3v1.3h-1.3zM430.75,34.00h1.3v1.3h-1.3zM430.75,37.23h1.3v1.3h-1.3zM430.75,40.45h1.3v1.3h-1.3zM430.75,43.68h1.3v1.3h-1.3zM430.75,46.90h1.3v1.3h-1.3zM430.75,59.80h1.3v1.3h-1.3zM430.75,63.02h1.3v1.3h-1.3zM430.75,66.25h1.3v1.3h-1.3zM430.75,69.47h1.3v1.3h-1.3zM430.75,72.70h1.3v1.3h-1.3zM430.75,117.85h1.3v1.3h-1.3zM430.75,121.07h1.3v1.3h-1.3zM430.75,124.30h1.3v1.3h-1.3zM430.75,127.53h1.3v1.3h-1.3zM430.75,130.75h1.3v1.3h-1.3zM430.75,133.97h1.3v1.3h-1.3zM430.75,137.20h1.3v1.3h-1.3zM430.75,140.43h1.3v1.3h-1.3zM430.75,143.65h1.3v1.3h-1.3zM433.91,14.65h1.3v1.3h-1.3zM433.91,17.88h1.3v1.3h-1.3zM433.91,21.10h1.3v1.3h-1.3zM433.91,24.33h1.3v1.3h-1.3zM433.91,27.55h1.3v1.3h-1.3zM433.91,30.78h1.3v1.3h-1.3zM433.91,34.00h1.3v1.3h-1.3zM433.91,37.23h1.3v1.3h-1.3zM433.91,40.45h1.3v1.3h-1.3zM433.91,43.68h1.3v1.3h-1.3zM433.91,46.90h1.3v1.3h-1.3zM433.91,59.80h1.3v1.3h-1.3zM433.91,63.02h1.3v1.3h-1.3zM433.91,66.25h1.3v1.3h-1.3zM433.91,69.47h1.3v1.3h-1.3zM433.91,72.70h1.3v1.3h-1.3zM433.91,117.85h1.3v1.3h-1.3zM433.91,121.07h1.3v1.3h-1.3zM433.91,124.30h1.3v1.3h-1.3zM433.91,127.53h1.3v1.3h-1.3zM433.91,130.75h1.3v1.3h-1.3zM433.91,133.97h1.3v1.3h-1.3zM433.91,137.20h1.3v1.3h-1.3zM433.91,140.43h1.3v1.3h-1.3zM433.91,143.65h1.3v1.3h-1.3zM437.06,14.65h1.3v1.3h-1.3zM437.06,17.88h1.3v1.3h-1.3zM437.06,21.10h1.3v1.3h-1.3zM437.06,24.33h1.3v1.3h-1.3zM437.06,27.55h1.3v1.3h-1.3zM437.06,30.78h1.3v1.3h-1.3zM437.06,34.00h1.3v1.3h-1.3zM437.06,37.23h1.3v1.3h-1.3zM437.06,40.45h1.3v1.3h-1.3zM437.06,43.68h1.3v1.3h-1.3zM437.06,46.90h1.3v1.3h-1.3zM437.06,63.02h1.3v1.3h-1.3zM437.06,66.25h1.3v1.3h-1.3zM437.06,69.47h1.3v1.3h-1.3zM437.06,72.70h1.3v1.3h-1.3zM437.06,117.85h1.3v1.3h-1.3zM437.06,121.07h1.3v1.3h-1.3zM437.06,124.30h1.3v1.3h-1.3zM437.06,127.53h1.3v1.3h-1.3zM437.06,130.75h1.3v1.3h-1.3zM437.06,133.97h1.3v1.3h-1.3zM437.06,137.20h1.3v1.3h-1.3zM437.06,140.43h1.3v1.3h-1.3zM437.06,143.65h1.3v1.3h-1.3zM440.22,17.88h1.3v1.3h-1.3zM440.22,21.10h1.3v1.3h-1.3zM440.22,24.33h1.3v1.3h-1.3zM440.22,27.55h1.3v1.3h-1.3zM440.22,30.78h1.3v1.3h-1.3zM440.22,34.00h1.3v1.3h-1.3zM440.22,37.23h1.3v1.3h-1.3zM440.22,40.45h1.3v1.3h-1.3zM440.22,43.68h1.3v1.3h-1.3zM440.22,66.25h1.3v1.3h-1.3zM440.22,69.47h1.3v1.3h-1.3zM440.22,72.70h1.3v1.3h-1.3zM440.22,114.62h1.3v1.3h-1.3zM440.22,117.85h1.3v1.3h-1.3zM440.22,121.07h1.3v1.3h-1.3zM440.22,124.30h1.3v1.3h-1.3zM440.22,127.53h1.3v1.3h-1.3zM440.22,130.75h1.3v1.3h-1.3zM440.22,133.97h1.3v1.3h-1.3zM440.22,137.20h1.3v1.3h-1.3zM440.22,140.43h1.3v1.3h-1.3zM440.22,143.65h1.3v1.3h-1.3zM443.37,21.10h1.3v1.3h-1.3zM443.37,24.33h1.3v1.3h-1.3zM443.37,27.55h1.3v1.3h-1.3zM443.37,30.78h1.3v1.3h-1.3zM443.37,34.00h1.3v1.3h-1.3zM443.37,37.23h1.3v1.3h-1.3zM443.37,40.45h1.3v1.3h-1.3zM443.37,43.68h1.3v1.3h-1.3zM443.37,50.13h1.3v1.3h-1.3zM443.37,53.35h1.3v1.3h-1.3zM443.37,56.58h1.3v1.3h-1.3zM443.37,59.80h1.3v1.3h-1.3zM443.37,63.02h1.3v1.3h-1.3zM443.37,66.25h1.3v1.3h-1.3zM443.37,69.47h1.3v1.3h-1.3zM443.37,72.70h1.3v1.3h-1.3zM443.37,111.40h1.3v1.3h-1.3zM443.37,114.62h1.3v1.3h-1.3zM443.37,117.85h1.3v1.3h-1.3zM443.37,121.07h1.3v1.3h-1.3zM443.37,124.30h1.3v1.3h-1.3zM443.37,127.53h1.3v1.3h-1.3zM443.37,130.75h1.3v1.3h-1.3zM443.37,133.97h1.3v1.3h-1.3zM443.37,137.20h1.3v1.3h-1.3zM443.37,140.43h1.3v1.3h-1.3zM443.37,143.65h1.3v1.3h-1.3zM446.53,21.10h1.3v1.3h-1.3zM446.53,24.33h1.3v1.3h-1.3zM446.53,27.55h1.3v1.3h-1.3zM446.53,30.78h1.3v1.3h-1.3zM446.53,34.00h1.3v1.3h-1.3zM446.53,37.23h1.3v1.3h-1.3zM446.53,40.45h1.3v1.3h-1.3zM446.53,43.68h1.3v1.3h-1.3zM446.53,50.13h1.3v1.3h-1.3zM446.53,53.35h1.3v1.3h-1.3zM446.53,56.58h1.3v1.3h-1.3zM446.53,59.80h1.3v1.3h-1.3zM446.53,63.02h1.3v1.3h-1.3zM446.53,66.25h1.3v1.3h-1.3zM446.53,69.47h1.3v1.3h-1.3zM446.53,72.70h1.3v1.3h-1.3zM446.53,75.92h1.3v1.3h-1.3zM446.53,79.15h1.3v1.3h-1.3zM446.53,104.95h1.3v1.3h-1.3zM446.53,108.17h1.3v1.3h-1.3zM446.53,111.40h1.3v1.3h-1.3zM446.53,114.62h1.3v1.3h-1.3zM446.53,117.85h1.3v1.3h-1.3zM446.53,121.07h1.3v1.3h-1.3zM446.53,124.30h1.3v1.3h-1.3zM446.53,127.53h1.3v1.3h-1.3zM446.53,130.75h1.3v1.3h-1.3zM446.53,133.97h1.3v1.3h-1.3zM446.53,137.20h1.3v1.3h-1.3zM446.53,140.43h1.3v1.3h-1.3zM446.53,143.65h1.3v1.3h-1.3zM449.68,14.65h1.3v1.3h-1.3zM449.68,21.10h1.3v1.3h-1.3zM449.68,24.33h1.3v1.3h-1.3zM449.68,27.55h1.3v1.3h-1.3zM449.68,30.78h1.3v1.3h-1.3zM449.68,34.00h1.3v1.3h-1.3zM449.68,37.23h1.3v1.3h-1.3zM449.68,40.45h1.3v1.3h-1.3zM449.68,43.68h1.3v1.3h-1.3zM449.68,50.13h1.3v1.3h-1.3zM449.68,53.35h1.3v1.3h-1.3zM449.68,56.58h1.3v1.3h-1.3zM449.68,59.80h1.3v1.3h-1.3zM449.68,63.02h1.3v1.3h-1.3zM449.68,66.25h1.3v1.3h-1.3zM449.68,69.47h1.3v1.3h-1.3zM449.68,72.70h1.3v1.3h-1.3zM449.68,75.92h1.3v1.3h-1.3zM449.68,79.15h1.3v1.3h-1.3zM449.68,104.95h1.3v1.3h-1.3zM449.68,108.17h1.3v1.3h-1.3zM449.68,111.40h1.3v1.3h-1.3zM449.68,114.62h1.3v1.3h-1.3zM449.68,117.85h1.3v1.3h-1.3zM449.68,121.07h1.3v1.3h-1.3zM449.68,124.30h1.3v1.3h-1.3zM449.68,127.53h1.3v1.3h-1.3zM449.68,130.75h1.3v1.3h-1.3zM449.68,133.97h1.3v1.3h-1.3zM449.68,137.20h1.3v1.3h-1.3zM449.68,140.43h1.3v1.3h-1.3zM449.68,143.65h1.3v1.3h-1.3zM452.84,14.65h1.3v1.3h-1.3zM452.84,17.88h1.3v1.3h-1.3zM452.84,21.10h1.3v1.3h-1.3zM452.84,24.33h1.3v1.3h-1.3zM452.84,27.55h1.3v1.3h-1.3zM452.84,30.78h1.3v1.3h-1.3zM452.84,34.00h1.3v1.3h-1.3zM452.84,37.23h1.3v1.3h-1.3zM452.84,40.45h1.3v1.3h-1.3zM452.84,43.68h1.3v1.3h-1.3zM452.84,50.13h1.3v1.3h-1.3zM452.84,53.35h1.3v1.3h-1.3zM452.84,56.58h1.3v1.3h-1.3zM452.84,59.80h1.3v1.3h-1.3zM452.84,63.02h1.3v1.3h-1.3zM452.84,66.25h1.3v1.3h-1.3zM452.84,69.47h1.3v1.3h-1.3zM452.84,72.70h1.3v1.3h-1.3zM452.84,104.95h1.3v1.3h-1.3zM452.84,108.17h1.3v1.3h-1.3zM452.84,111.40h1.3v1.3h-1.3zM452.84,114.62h1.3v1.3h-1.3zM452.84,117.85h1.3v1.3h-1.3zM452.84,121.07h1.3v1.3h-1.3zM452.84,133.97h1.3v1.3h-1.3zM452.84,137.20h1.3v1.3h-1.3zM452.84,140.43h1.3v1.3h-1.3zM452.84,143.65h1.3v1.3h-1.3zM455.99,14.65h1.3v1.3h-1.3zM455.99,17.88h1.3v1.3h-1.3zM455.99,21.10h1.3v1.3h-1.3zM455.99,24.33h1.3v1.3h-1.3zM455.99,27.55h1.3v1.3h-1.3zM455.99,30.78h1.3v1.3h-1.3zM455.99,34.00h1.3v1.3h-1.3zM455.99,37.23h1.3v1.3h-1.3zM455.99,40.45h1.3v1.3h-1.3zM455.99,43.68h1.3v1.3h-1.3zM455.99,46.90h1.3v1.3h-1.3zM455.99,50.13h1.3v1.3h-1.3zM455.99,53.35h1.3v1.3h-1.3zM455.99,56.58h1.3v1.3h-1.3zM455.99,59.80h1.3v1.3h-1.3zM455.99,63.02h1.3v1.3h-1.3zM455.99,66.25h1.3v1.3h-1.3zM455.99,69.47h1.3v1.3h-1.3zM455.99,72.70h1.3v1.3h-1.3zM455.99,75.92h1.3v1.3h-1.3zM455.99,79.15h1.3v1.3h-1.3zM455.99,92.05h1.3v1.3h-1.3zM455.99,95.27h1.3v1.3h-1.3zM455.99,98.50h1.3v1.3h-1.3zM455.99,101.72h1.3v1.3h-1.3zM455.99,104.95h1.3v1.3h-1.3zM455.99,108.17h1.3v1.3h-1.3zM455.99,111.40h1.3v1.3h-1.3zM455.99,114.62h1.3v1.3h-1.3zM455.99,117.85h1.3v1.3h-1.3zM455.99,121.07h1.3v1.3h-1.3zM455.99,133.97h1.3v1.3h-1.3zM455.99,137.20h1.3v1.3h-1.3zM455.99,140.43h1.3v1.3h-1.3zM455.99,143.65h1.3v1.3h-1.3zM459.15,14.65h1.3v1.3h-1.3zM459.15,17.88h1.3v1.3h-1.3zM459.15,21.10h1.3v1.3h-1.3zM459.15,24.33h1.3v1.3h-1.3zM459.15,27.55h1.3v1.3h-1.3zM459.15,30.78h1.3v1.3h-1.3zM459.15,34.00h1.3v1.3h-1.3zM459.15,37.23h1.3v1.3h-1.3zM459.15,40.45h1.3v1.3h-1.3zM459.15,43.68h1.3v1.3h-1.3zM459.15,46.90h1.3v1.3h-1.3zM459.15,50.13h1.3v1.3h-1.3zM459.15,53.35h1.3v1.3h-1.3zM459.15,56.58h1.3v1.3h-1.3zM459.15,59.80h1.3v1.3h-1.3zM459.15,63.02h1.3v1.3h-1.3zM459.15,66.25h1.3v1.3h-1.3zM459.15,69.47h1.3v1.3h-1.3zM459.15,72.70h1.3v1.3h-1.3zM459.15,75.92h1.3v1.3h-1.3zM459.15,79.15h1.3v1.3h-1.3zM459.15,82.38h1.3v1.3h-1.3zM459.15,95.27h1.3v1.3h-1.3zM459.15,98.50h1.3v1.3h-1.3zM459.15,101.72h1.3v1.3h-1.3zM459.15,104.95h1.3v1.3h-1.3zM459.15,108.17h1.3v1.3h-1.3zM459.15,111.40h1.3v1.3h-1.3zM459.15,114.62h1.3v1.3h-1.3zM459.15,117.85h1.3v1.3h-1.3zM459.15,121.07h1.3v1.3h-1.3zM459.15,133.97h1.3v1.3h-1.3zM459.15,137.20h1.3v1.3h-1.3zM459.15,140.43h1.3v1.3h-1.3zM459.15,143.65h1.3v1.3h-1.3zM462.30,14.65h1.3v1.3h-1.3zM462.30,17.88h1.3v1.3h-1.3zM462.30,21.10h1.3v1.3h-1.3zM462.30,24.33h1.3v1.3h-1.3zM462.30,27.55h1.3v1.3h-1.3zM462.30,30.78h1.3v1.3h-1.3zM462.30,34.00h1.3v1.3h-1.3zM462.30,37.23h1.3v1.3h-1.3zM462.30,40.45h1.3v1.3h-1.3zM462.30,43.68h1.3v1.3h-1.3zM462.30,46.90h1.3v1.3h-1.3zM462.30,50.13h1.3v1.3h-1.3zM462.30,53.35h1.3v1.3h-1.3zM462.30,56.58h1.3v1.3h-1.3zM462.30,59.80h1.3v1.3h-1.3zM462.30,63.02h1.3v1.3h-1.3zM462.30,66.25h1.3v1.3h-1.3zM462.30,69.47h1.3v1.3h-1.3zM462.30,72.70h1.3v1.3h-1.3zM462.30,75.92h1.3v1.3h-1.3zM462.30,79.15h1.3v1.3h-1.3zM462.30,82.38h1.3v1.3h-1.3zM462.30,95.27h1.3v1.3h-1.3zM462.30,98.50h1.3v1.3h-1.3zM462.30,101.72h1.3v1.3h-1.3zM462.30,104.95h1.3v1.3h-1.3zM462.30,108.17h1.3v1.3h-1.3zM462.30,111.40h1.3v1.3h-1.3zM462.30,114.62h1.3v1.3h-1.3zM462.30,117.85h1.3v1.3h-1.3zM462.30,121.07h1.3v1.3h-1.3zM462.30,124.30h1.3v1.3h-1.3zM462.30,127.53h1.3v1.3h-1.3zM462.30,133.97h1.3v1.3h-1.3zM462.30,137.20h1.3v1.3h-1.3zM462.30,140.43h1.3v1.3h-1.3zM462.30,143.65h1.3v1.3h-1.3zM465.46,14.65h1.3v1.3h-1.3zM465.46,17.88h1.3v1.3h-1.3zM465.46,21.10h1.3v1.3h-1.3zM465.46,24.33h1.3v1.3h-1.3zM465.46,27.55h1.3v1.3h-1.3zM465.46,30.78h1.3v1.3h-1.3zM465.46,34.00h1.3v1.3h-1.3zM465.46,37.23h1.3v1.3h-1.3zM465.46,40.45h1.3v1.3h-1.3zM465.46,43.68h1.3v1.3h-1.3zM465.46,46.90h1.3v1.3h-1.3zM465.46,50.13h1.3v1.3h-1.3zM465.46,53.35h1.3v1.3h-1.3zM465.46,56.58h1.3v1.3h-1.3zM465.46,59.80h1.3v1.3h-1.3zM465.46,63.02h1.3v1.3h-1.3zM465.46,66.25h1.3v1.3h-1.3zM465.46,69.47h1.3v1.3h-1.3zM465.46,72.70h1.3v1.3h-1.3zM465.46,75.92h1.3v1.3h-1.3zM465.46,79.15h1.3v1.3h-1.3zM465.46,82.38h1.3v1.3h-1.3zM465.46,85.60h1.3v1.3h-1.3zM465.46,98.50h1.3v1.3h-1.3zM465.46,101.72h1.3v1.3h-1.3zM465.46,104.95h1.3v1.3h-1.3zM465.46,108.17h1.3v1.3h-1.3zM465.46,111.40h1.3v1.3h-1.3zM465.46,114.62h1.3v1.3h-1.3zM465.46,117.85h1.3v1.3h-1.3zM465.46,121.07h1.3v1.3h-1.3zM465.46,124.30h1.3v1.3h-1.3zM465.46,127.53h1.3v1.3h-1.3zM465.46,130.75h1.3v1.3h-1.3zM465.46,140.43h1.3v1.3h-1.3zM465.46,143.65h1.3v1.3h-1.3zM468.61,14.65h1.3v1.3h-1.3zM468.61,17.88h1.3v1.3h-1.3zM468.61,21.10h1.3v1.3h-1.3zM468.61,24.33h1.3v1.3h-1.3zM468.61,27.55h1.3v1.3h-1.3zM468.61,30.78h1.3v1.3h-1.3zM468.61,34.00h1.3v1.3h-1.3zM468.61,37.23h1.3v1.3h-1.3zM468.61,40.45h1.3v1.3h-1.3zM468.61,43.68h1.3v1.3h-1.3zM468.61,46.90h1.3v1.3h-1.3zM468.61,50.13h1.3v1.3h-1.3zM468.61,53.35h1.3v1.3h-1.3zM468.61,56.58h1.3v1.3h-1.3zM468.61,59.80h1.3v1.3h-1.3zM468.61,63.02h1.3v1.3h-1.3zM468.61,66.25h1.3v1.3h-1.3zM468.61,69.47h1.3v1.3h-1.3zM468.61,72.70h1.3v1.3h-1.3zM468.61,75.92h1.3v1.3h-1.3zM468.61,79.15h1.3v1.3h-1.3zM468.61,82.38h1.3v1.3h-1.3zM468.61,85.60h1.3v1.3h-1.3zM468.61,88.82h1.3v1.3h-1.3zM468.61,98.50h1.3v1.3h-1.3zM468.61,101.72h1.3v1.3h-1.3zM468.61,104.95h1.3v1.3h-1.3zM468.61,108.17h1.3v1.3h-1.3zM468.61,111.40h1.3v1.3h-1.3zM468.61,114.62h1.3v1.3h-1.3zM468.61,117.85h1.3v1.3h-1.3zM468.61,121.07h1.3v1.3h-1.3zM468.61,124.30h1.3v1.3h-1.3zM468.61,140.43h1.3v1.3h-1.3zM468.61,143.65h1.3v1.3h-1.3zM471.77,14.65h1.3v1.3h-1.3zM471.77,17.88h1.3v1.3h-1.3zM471.77,21.10h1.3v1.3h-1.3zM471.77,24.33h1.3v1.3h-1.3zM471.77,27.55h1.3v1.3h-1.3zM471.77,30.78h1.3v1.3h-1.3zM471.77,34.00h1.3v1.3h-1.3zM471.77,37.23h1.3v1.3h-1.3zM471.77,40.45h1.3v1.3h-1.3zM471.77,43.68h1.3v1.3h-1.3zM471.77,46.90h1.3v1.3h-1.3zM471.77,50.13h1.3v1.3h-1.3zM471.77,53.35h1.3v1.3h-1.3zM471.77,56.58h1.3v1.3h-1.3zM471.77,59.80h1.3v1.3h-1.3zM471.77,63.02h1.3v1.3h-1.3zM471.77,66.25h1.3v1.3h-1.3zM471.77,69.47h1.3v1.3h-1.3zM471.77,72.70h1.3v1.3h-1.3zM471.77,75.92h1.3v1.3h-1.3zM471.77,79.15h1.3v1.3h-1.3zM471.77,82.38h1.3v1.3h-1.3zM471.77,85.60h1.3v1.3h-1.3zM471.77,88.82h1.3v1.3h-1.3zM471.77,92.05h1.3v1.3h-1.3zM471.77,95.27h1.3v1.3h-1.3zM471.77,98.50h1.3v1.3h-1.3zM471.77,101.72h1.3v1.3h-1.3zM471.77,104.95h1.3v1.3h-1.3zM471.77,108.17h1.3v1.3h-1.3zM471.77,111.40h1.3v1.3h-1.3zM471.77,114.62h1.3v1.3h-1.3zM471.77,117.85h1.3v1.3h-1.3zM471.77,121.07h1.3v1.3h-1.3zM471.77,124.30h1.3v1.3h-1.3zM471.77,127.53h1.3v1.3h-1.3zM471.77,130.75h1.3v1.3h-1.3zM471.77,133.97h1.3v1.3h-1.3zM471.77,137.20h1.3v1.3h-1.3zM471.77,140.43h1.3v1.3h-1.3zM471.77,143.65h1.3v1.3h-1.3zM474.92,14.65h1.3v1.3h-1.3zM474.92,17.88h1.3v1.3h-1.3zM474.92,21.10h1.3v1.3h-1.3zM474.92,24.33h1.3v1.3h-1.3zM474.92,27.55h1.3v1.3h-1.3zM474.92,30.78h1.3v1.3h-1.3zM474.92,34.00h1.3v1.3h-1.3zM474.92,37.23h1.3v1.3h-1.3zM474.92,40.45h1.3v1.3h-1.3zM474.92,43.68h1.3v1.3h-1.3zM474.92,46.90h1.3v1.3h-1.3zM474.92,50.13h1.3v1.3h-1.3zM474.92,53.35h1.3v1.3h-1.3zM474.92,56.58h1.3v1.3h-1.3zM474.92,59.80h1.3v1.3h-1.3zM474.92,63.02h1.3v1.3h-1.3zM474.92,66.25h1.3v1.3h-1.3zM474.92,69.47h1.3v1.3h-1.3zM474.92,72.70h1.3v1.3h-1.3zM474.92,75.92h1.3v1.3h-1.3zM474.92,79.15h1.3v1.3h-1.3zM474.92,82.38h1.3v1.3h-1.3zM474.92,85.60h1.3v1.3h-1.3zM474.92,88.82h1.3v1.3h-1.3zM474.92,92.05h1.3v1.3h-1.3zM474.92,95.27h1.3v1.3h-1.3zM474.92,98.50h1.3v1.3h-1.3zM474.92,101.72h1.3v1.3h-1.3zM474.92,104.95h1.3v1.3h-1.3zM474.92,108.17h1.3v1.3h-1.3zM474.92,111.40h1.3v1.3h-1.3zM474.92,114.62h1.3v1.3h-1.3zM474.92,117.85h1.3v1.3h-1.3zM474.92,121.07h1.3v1.3h-1.3zM474.92,124.30h1.3v1.3h-1.3zM474.92,127.53h1.3v1.3h-1.3zM474.92,130.75h1.3v1.3h-1.3zM474.92,133.97h1.3v1.3h-1.3zM474.92,137.20h1.3v1.3h-1.3zM474.92,140.43h1.3v1.3h-1.3zM474.92,143.65h1.3v1.3h-1.3zM478.08,14.65h1.3v1.3h-1.3zM478.08,17.88h1.3v1.3h-1.3zM478.08,21.10h1.3v1.3h-1.3zM478.08,24.33h1.3v1.3h-1.3zM478.08,27.55h1.3v1.3h-1.3zM478.08,30.78h1.3v1.3h-1.3zM478.08,34.00h1.3v1.3h-1.3zM478.08,37.23h1.3v1.3h-1.3zM478.08,40.45h1.3v1.3h-1.3zM478.08,43.68h1.3v1.3h-1.3zM478.08,46.90h1.3v1.3h-1.3zM478.08,50.13h1.3v1.3h-1.3zM478.08,53.35h1.3v1.3h-1.3zM478.08,56.58h1.3v1.3h-1.3zM478.08,59.80h1.3v1.3h-1.3zM478.08,63.02h1.3v1.3h-1.3zM478.08,66.25h1.3v1.3h-1.3zM478.08,69.47h1.3v1.3h-1.3zM478.08,72.70h1.3v1.3h-1.3zM478.08,75.92h1.3v1.3h-1.3zM478.08,79.15h1.3v1.3h-1.3zM478.08,82.38h1.3v1.3h-1.3zM478.08,85.60h1.3v1.3h-1.3zM478.08,88.82h1.3v1.3h-1.3zM478.08,92.05h1.3v1.3h-1.3zM478.08,95.27h1.3v1.3h-1.3zM478.08,98.50h1.3v1.3h-1.3zM478.08,101.72h1.3v1.3h-1.3zM478.08,104.95h1.3v1.3h-1.3zM478.08,108.17h1.3v1.3h-1.3zM478.08,111.40h1.3v1.3h-1.3zM478.08,114.62h1.3v1.3h-1.3zM478.08,117.85h1.3v1.3h-1.3zM478.08,121.07h1.3v1.3h-1.3zM478.08,124.30h1.3v1.3h-1.3zM478.08,127.53h1.3v1.3h-1.3zM478.08,130.75h1.3v1.3h-1.3zM478.08,133.97h1.3v1.3h-1.3zM478.08,137.20h1.3v1.3h-1.3zM478.08,140.43h1.3v1.3h-1.3zM478.08,143.65h1.3v1.3h-1.3zM481.23,14.65h1.3v1.3h-1.3zM481.23,17.88h1.3v1.3h-1.3zM481.23,21.10h1.3v1.3h-1.3zM481.23,24.33h1.3v1.3h-1.3zM481.23,27.55h1.3v1.3h-1.3zM481.23,30.78h1.3v1.3h-1.3zM481.23,34.00h1.3v1.3h-1.3zM481.23,37.23h1.3v1.3h-1.3zM481.23,40.45h1.3v1.3h-1.3zM481.23,43.68h1.3v1.3h-1.3zM481.23,46.90h1.3v1.3h-1.3zM481.23,50.13h1.3v1.3h-1.3zM481.23,53.35h1.3v1.3h-1.3zM481.23,56.58h1.3v1.3h-1.3zM481.23,59.80h1.3v1.3h-1.3zM481.23,63.02h1.3v1.3h-1.3zM481.23,66.25h1.3v1.3h-1.3zM481.23,69.47h1.3v1.3h-1.3zM481.23,72.70h1.3v1.3h-1.3zM481.23,75.92h1.3v1.3h-1.3zM481.23,79.15h1.3v1.3h-1.3zM481.23,82.38h1.3v1.3h-1.3zM481.23,85.60h1.3v1.3h-1.3zM481.23,88.82h1.3v1.3h-1.3zM481.23,92.05h1.3v1.3h-1.3zM481.23,95.27h1.3v1.3h-1.3zM481.23,98.50h1.3v1.3h-1.3zM481.23,101.72h1.3v1.3h-1.3zM481.23,104.95h1.3v1.3h-1.3zM481.23,108.17h1.3v1.3h-1.3zM481.23,111.40h1.3v1.3h-1.3zM481.23,114.62h1.3v1.3h-1.3zM481.23,117.85h1.3v1.3h-1.3zM481.23,121.07h1.3v1.3h-1.3zM481.23,124.30h1.3v1.3h-1.3zM481.23,127.53h1.3v1.3h-1.3zM481.23,130.75h1.3v1.3h-1.3zM481.23,133.97h1.3v1.3h-1.3zM481.23,137.20h1.3v1.3h-1.3zM481.23,140.43h1.3v1.3h-1.3zM481.23,143.65h1.3v1.3h-1.3zM484.39,14.65h1.3v1.3h-1.3zM484.39,17.88h1.3v1.3h-1.3zM484.39,21.10h1.3v1.3h-1.3zM484.39,24.33h1.3v1.3h-1.3zM484.39,27.55h1.3v1.3h-1.3zM484.39,30.78h1.3v1.3h-1.3zM484.39,34.00h1.3v1.3h-1.3zM484.39,37.23h1.3v1.3h-1.3zM484.39,40.45h1.3v1.3h-1.3zM484.39,43.68h1.3v1.3h-1.3zM484.39,46.90h1.3v1.3h-1.3zM484.39,50.13h1.3v1.3h-1.3zM484.39,53.35h1.3v1.3h-1.3zM484.39,56.58h1.3v1.3h-1.3zM484.39,59.80h1.3v1.3h-1.3zM484.39,63.02h1.3v1.3h-1.3zM484.39,66.25h1.3v1.3h-1.3zM484.39,69.47h1.3v1.3h-1.3zM484.39,72.70h1.3v1.3h-1.3zM484.39,75.92h1.3v1.3h-1.3zM484.39,79.15h1.3v1.3h-1.3zM484.39,82.38h1.3v1.3h-1.3zM484.39,85.60h1.3v1.3h-1.3zM484.39,88.82h1.3v1.3h-1.3zM484.39,92.05h1.3v1.3h-1.3zM484.39,95.27h1.3v1.3h-1.3zM484.39,98.50h1.3v1.3h-1.3zM484.39,101.72h1.3v1.3h-1.3zM484.39,104.95h1.3v1.3h-1.3zM484.39,108.17h1.3v1.3h-1.3zM484.39,111.40h1.3v1.3h-1.3zM484.39,114.62h1.3v1.3h-1.3zM484.39,117.85h1.3v1.3h-1.3zM484.39,121.07h1.3v1.3h-1.3zM484.39,124.30h1.3v1.3h-1.3zM484.39,127.53h1.3v1.3h-1.3zM484.39,130.75h1.3v1.3h-1.3zM484.39,133.97h1.3v1.3h-1.3zM484.39,137.20h1.3v1.3h-1.3zM484.39,140.43h1.3v1.3h-1.3zM484.39,143.65h1.3v1.3h-1.3zM487.54,14.65h1.3v1.3h-1.3zM487.54,17.88h1.3v1.3h-1.3zM487.54,21.10h1.3v1.3h-1.3zM487.54,30.78h1.3v1.3h-1.3zM487.54,34.00h1.3v1.3h-1.3zM487.54,37.23h1.3v1.3h-1.3zM487.54,40.45h1.3v1.3h-1.3zM487.54,43.68h1.3v1.3h-1.3zM487.54,46.90h1.3v1.3h-1.3zM487.54,50.13h1.3v1.3h-1.3zM487.54,53.35h1.3v1.3h-1.3zM487.54,56.58h1.3v1.3h-1.3zM487.54,59.80h1.3v1.3h-1.3zM487.54,63.02h1.3v1.3h-1.3zM487.54,66.25h1.3v1.3h-1.3zM487.54,69.47h1.3v1.3h-1.3zM487.54,72.70h1.3v1.3h-1.3zM487.54,75.92h1.3v1.3h-1.3zM487.54,79.15h1.3v1.3h-1.3zM487.54,82.38h1.3v1.3h-1.3zM487.54,85.60h1.3v1.3h-1.3zM487.54,88.82h1.3v1.3h-1.3zM487.54,92.05h1.3v1.3h-1.3zM487.54,95.27h1.3v1.3h-1.3zM487.54,98.50h1.3v1.3h-1.3zM487.54,101.72h1.3v1.3h-1.3zM487.54,104.95h1.3v1.3h-1.3zM487.54,108.17h1.3v1.3h-1.3zM487.54,111.40h1.3v1.3h-1.3zM487.54,114.62h1.3v1.3h-1.3zM487.54,117.85h1.3v1.3h-1.3zM487.54,121.07h1.3v1.3h-1.3zM487.54,124.30h1.3v1.3h-1.3zM487.54,127.53h1.3v1.3h-1.3zM487.54,130.75h1.3v1.3h-1.3zM487.54,133.97h1.3v1.3h-1.3zM487.54,137.20h1.3v1.3h-1.3zM487.54,140.43h1.3v1.3h-1.3zM487.54,143.65h1.3v1.3h-1.3zM490.70,14.65h1.3v1.3h-1.3zM490.70,17.88h1.3v1.3h-1.3zM490.70,21.10h1.3v1.3h-1.3zM490.70,24.33h1.3v1.3h-1.3zM490.70,27.55h1.3v1.3h-1.3zM490.70,30.78h1.3v1.3h-1.3zM490.70,34.00h1.3v1.3h-1.3zM490.70,37.23h1.3v1.3h-1.3zM490.70,40.45h1.3v1.3h-1.3zM490.70,43.68h1.3v1.3h-1.3zM490.70,46.90h1.3v1.3h-1.3zM490.70,50.13h1.3v1.3h-1.3zM490.70,53.35h1.3v1.3h-1.3zM490.70,56.58h1.3v1.3h-1.3zM490.70,59.80h1.3v1.3h-1.3zM490.70,63.02h1.3v1.3h-1.3zM490.70,66.25h1.3v1.3h-1.3zM490.70,69.47h1.3v1.3h-1.3zM490.70,72.70h1.3v1.3h-1.3zM490.70,75.92h1.3v1.3h-1.3zM490.70,79.15h1.3v1.3h-1.3zM490.70,82.38h1.3v1.3h-1.3zM490.70,85.60h1.3v1.3h-1.3zM490.70,88.82h1.3v1.3h-1.3zM490.70,92.05h1.3v1.3h-1.3zM490.70,95.27h1.3v1.3h-1.3zM490.70,98.50h1.3v1.3h-1.3zM490.70,101.72h1.3v1.3h-1.3zM490.70,104.95h1.3v1.3h-1.3zM490.70,108.17h1.3v1.3h-1.3zM490.70,111.40h1.3v1.3h-1.3zM490.70,114.62h1.3v1.3h-1.3zM490.70,117.85h1.3v1.3h-1.3zM490.70,121.07h1.3v1.3h-1.3zM490.70,124.30h1.3v1.3h-1.3zM490.70,127.53h1.3v1.3h-1.3zM490.70,130.75h1.3v1.3h-1.3zM490.70,133.97h1.3v1.3h-1.3zM490.70,137.20h1.3v1.3h-1.3zM490.70,140.43h1.3v1.3h-1.3zM490.70,143.65h1.3v1.3h-1.3zM493.85,14.65h1.3v1.3h-1.3zM493.85,17.88h1.3v1.3h-1.3zM493.85,21.10h1.3v1.3h-1.3zM493.85,24.33h1.3v1.3h-1.3zM493.85,27.55h1.3v1.3h-1.3zM493.85,30.78h1.3v1.3h-1.3zM493.85,34.00h1.3v1.3h-1.3zM493.85,37.23h1.3v1.3h-1.3zM493.85,40.45h1.3v1.3h-1.3zM493.85,43.68h1.3v1.3h-1.3zM493.85,46.90h1.3v1.3h-1.3zM493.85,50.13h1.3v1.3h-1.3zM493.85,53.35h1.3v1.3h-1.3zM493.85,56.58h1.3v1.3h-1.3zM493.85,59.80h1.3v1.3h-1.3zM493.85,63.02h1.3v1.3h-1.3zM493.85,66.25h1.3v1.3h-1.3zM493.85,69.47h1.3v1.3h-1.3zM493.85,72.70h1.3v1.3h-1.3zM493.85,75.92h1.3v1.3h-1.3zM493.85,79.15h1.3v1.3h-1.3zM493.85,82.38h1.3v1.3h-1.3zM493.85,85.60h1.3v1.3h-1.3zM493.85,88.82h1.3v1.3h-1.3zM493.85,92.05h1.3v1.3h-1.3zM493.85,95.27h1.3v1.3h-1.3zM493.85,98.50h1.3v1.3h-1.3zM493.85,101.72h1.3v1.3h-1.3zM493.85,104.95h1.3v1.3h-1.3zM493.85,108.17h1.3v1.3h-1.3zM493.85,111.40h1.3v1.3h-1.3zM493.85,114.62h1.3v1.3h-1.3zM493.85,117.85h1.3v1.3h-1.3zM493.85,121.07h1.3v1.3h-1.3zM493.85,124.30h1.3v1.3h-1.3zM493.85,127.53h1.3v1.3h-1.3zM493.85,130.75h1.3v1.3h-1.3zM493.85,133.97h1.3v1.3h-1.3zM493.85,137.20h1.3v1.3h-1.3zM493.85,140.43h1.3v1.3h-1.3zM493.85,143.65h1.3v1.3h-1.3z" fill="#1a1a1a" fill-opacity="0.72"/></g>
<text x="100.5" y="12.5" font-family="Liberation Sans" font-weight="bold" font-size="10.5" text-anchor="middle" fill="#000" stroke="#000" stroke-width="0.2" textLength="33" lengthAdjust="spacingAndGlyphs">WETC</text>
<text x="266.0" y="12.5" font-family="Liberation Sans" font-weight="bold" font-size="10.5" text-anchor="middle" fill="#000" stroke="#000" stroke-width="0.2" textLength="31" lengthAdjust="spacingAndGlyphs">SETC</text>
<text x="431.4" y="12.5" font-family="Liberation Sans" font-weight="bold" font-size="10.5" text-anchor="middle" fill="#000" stroke="#000" stroke-width="0.2" textLength="35" lengthAdjust="spacingAndGlyphs">DWCC</text>
<line x1="50.1" y1="144.4" x2="50.1" y2="146.2" stroke="#ababa6" stroke-width="0.8"/>
<line x1="35.0" y1="129.9" x2="37.0" y2="129.9" stroke="#ababa6" stroke-width="0.8"/>
<text x="50.1" y="153.6" font-family="Liberation Sans" font-size="9" text-anchor="middle" fill="#262626" stroke="#262626" stroke-width="0.12" textLength="19.5" lengthAdjust="spacingAndGlyphs">-440</text>
<text x="34.5" y="132.9" font-family="Liberation Sans" font-size="9" text-anchor="end" fill="#262626" stroke="#262626" stroke-width="0.12" textLength="19.5" lengthAdjust="spacingAndGlyphs">-440</text>
<line x1="75.3" y1="144.4" x2="75.3" y2="146.2" stroke="#ababa6" stroke-width="0.8"/>
<line x1="35.0" y1="104.7" x2="37.0" y2="104.7" stroke="#ababa6" stroke-width="0.8"/>
<text x="75.3" y="153.6" font-family="Liberation Sans" font-size="9" text-anchor="middle" fill="#262626" stroke="#262626" stroke-width="0.12" textLength="19.5" lengthAdjust="spacingAndGlyphs">-220</text>
<text x="34.5" y="107.7" font-family="Liberation Sans" font-size="9" text-anchor="end" fill="#262626" stroke="#262626" stroke-width="0.12" textLength="19.5" lengthAdjust="spacingAndGlyphs">-220</text>
<line x1="100.5" y1="144.4" x2="100.5" y2="146.2" stroke="#ababa6" stroke-width="0.8"/>
<line x1="35.0" y1="79.5" x2="37.0" y2="79.5" stroke="#ababa6" stroke-width="0.8"/>
<text x="100.5" y="153.6" font-family="Liberation Sans" font-size="9" text-anchor="middle" fill="#262626" stroke="#262626" stroke-width="0.12" textLength="5.0" lengthAdjust="spacingAndGlyphs">0</text>
<text x="34.5" y="82.5" font-family="Liberation Sans" font-size="9" text-anchor="end" fill="#262626" stroke="#262626" stroke-width="0.12" textLength="5.0" lengthAdjust="spacingAndGlyphs">0</text>
<line x1="125.7" y1="144.4" x2="125.7" y2="146.2" stroke="#ababa6" stroke-width="0.8"/>
<line x1="35.0" y1="54.3" x2="37.0" y2="54.3" stroke="#ababa6" stroke-width="0.8"/>
<text x="125.7" y="153.6" font-family="Liberation Sans" font-size="9" text-anchor="middle" fill="#262626" stroke="#262626" stroke-width="0.12" textLength="15.5" lengthAdjust="spacingAndGlyphs">220</text>
<text x="34.5" y="57.3" font-family="Liberation Sans" font-size="9" text-anchor="end" fill="#262626" stroke="#262626" stroke-width="0.12" textLength="15.5" lengthAdjust="spacingAndGlyphs">220</text>
<line x1="150.9" y1="144.4" x2="150.9" y2="146.2" stroke="#ababa6" stroke-width="0.8"/>
<line x1="35.0" y1="29.1" x2="37.0" y2="29.1" stroke="#ababa6" stroke-width="0.8"/>
<text x="150.9" y="153.6" font-family="Liberation Sans" font-size="9" text-anchor="middle" fill="#262626" stroke="#262626" stroke-width="0.12" textLength="15.5" lengthAdjust="spacingAndGlyphs">440</text>
<text x="34.5" y="32.1" font-family="Liberation Sans" font-size="9" text-anchor="end" fill="#262626" stroke="#262626" stroke-width="0.12" textLength="15.5" lengthAdjust="spacingAndGlyphs">440</text>
<text x="100.5" y="163.2" font-family="Liberation Sans" font-size="9.8" text-anchor="middle" fill="#262626" stroke="#262626" stroke-width="0.12" textLength="73.2" lengthAdjust="spacingAndGlyphs">Along track (km)</text>
<text transform="translate(11.5,80.0) rotate(-90)" x="0" y="0" font-family="Liberation Sans" font-size="9.8" text-anchor="middle" fill="#262626" stroke="#262626" stroke-width="0.12" textLength="78.5" lengthAdjust="spacingAndGlyphs">Across track (km)</text>
<line x1="215.6" y1="144.4" x2="215.6" y2="146.2" stroke="#ababa6" stroke-width="0.8"/>
<line x1="200.0" y1="129.9" x2="202.0" y2="129.9" stroke="#ababa6" stroke-width="0.8"/>
<text x="215.6" y="153.6" font-family="Liberation Sans" font-size="9" text-anchor="middle" fill="#262626" stroke="#262626" stroke-width="0.12" textLength="19.5" lengthAdjust="spacingAndGlyphs">-440</text>
<text x="199.5" y="132.9" font-family="Liberation Sans" font-size="9" text-anchor="end" fill="#262626" stroke="#262626" stroke-width="0.12" textLength="19.5" lengthAdjust="spacingAndGlyphs">-440</text>
<line x1="240.8" y1="144.4" x2="240.8" y2="146.2" stroke="#ababa6" stroke-width="0.8"/>
<line x1="200.0" y1="104.7" x2="202.0" y2="104.7" stroke="#ababa6" stroke-width="0.8"/>
<text x="240.8" y="153.6" font-family="Liberation Sans" font-size="9" text-anchor="middle" fill="#262626" stroke="#262626" stroke-width="0.12" textLength="19.5" lengthAdjust="spacingAndGlyphs">-220</text>
<text x="199.5" y="107.7" font-family="Liberation Sans" font-size="9" text-anchor="end" fill="#262626" stroke="#262626" stroke-width="0.12" textLength="19.5" lengthAdjust="spacingAndGlyphs">-220</text>
<line x1="266.0" y1="144.4" x2="266.0" y2="146.2" stroke="#ababa6" stroke-width="0.8"/>
<line x1="200.0" y1="79.5" x2="202.0" y2="79.5" stroke="#ababa6" stroke-width="0.8"/>
<text x="266.0" y="153.6" font-family="Liberation Sans" font-size="9" text-anchor="middle" fill="#262626" stroke="#262626" stroke-width="0.12" textLength="5.0" lengthAdjust="spacingAndGlyphs">0</text>
<text x="199.5" y="82.5" font-family="Liberation Sans" font-size="9" text-anchor="end" fill="#262626" stroke="#262626" stroke-width="0.12" textLength="5.0" lengthAdjust="spacingAndGlyphs">0</text>
<line x1="291.2" y1="144.4" x2="291.2" y2="146.2" stroke="#ababa6" stroke-width="0.8"/>
<line x1="200.0" y1="54.3" x2="202.0" y2="54.3" stroke="#ababa6" stroke-width="0.8"/>
<text x="291.2" y="153.6" font-family="Liberation Sans" font-size="9" text-anchor="middle" fill="#262626" stroke="#262626" stroke-width="0.12" textLength="15.5" lengthAdjust="spacingAndGlyphs">220</text>
<text x="199.5" y="57.3" font-family="Liberation Sans" font-size="9" text-anchor="end" fill="#262626" stroke="#262626" stroke-width="0.12" textLength="15.5" lengthAdjust="spacingAndGlyphs">220</text>
<line x1="316.4" y1="144.4" x2="316.4" y2="146.2" stroke="#ababa6" stroke-width="0.8"/>
<line x1="200.0" y1="29.1" x2="202.0" y2="29.1" stroke="#ababa6" stroke-width="0.8"/>
<text x="316.4" y="153.6" font-family="Liberation Sans" font-size="9" text-anchor="middle" fill="#262626" stroke="#262626" stroke-width="0.12" textLength="15.5" lengthAdjust="spacingAndGlyphs">440</text>
<text x="199.5" y="32.1" font-family="Liberation Sans" font-size="9" text-anchor="end" fill="#262626" stroke="#262626" stroke-width="0.12" textLength="15.5" lengthAdjust="spacingAndGlyphs">440</text>
<text x="266.0" y="163.2" font-family="Liberation Sans" font-size="9.8" text-anchor="middle" fill="#262626" stroke="#262626" stroke-width="0.12" textLength="73.2" lengthAdjust="spacingAndGlyphs">Along track (km)</text>
<text transform="translate(176.5,80.0) rotate(-90)" x="0" y="0" font-family="Liberation Sans" font-size="9.8" text-anchor="middle" fill="#262626" stroke="#262626" stroke-width="0.12" textLength="78.5" lengthAdjust="spacingAndGlyphs">Across track (km)</text>
<line x1="381.6" y1="144.4" x2="381.6" y2="146.2" stroke="#ababa6" stroke-width="0.8"/>
<line x1="366.0" y1="129.9" x2="368.0" y2="129.9" stroke="#ababa6" stroke-width="0.8"/>
<text x="381.6" y="153.6" font-family="Liberation Sans" font-size="9" text-anchor="middle" fill="#262626" stroke="#262626" stroke-width="0.12" textLength="19.5" lengthAdjust="spacingAndGlyphs">-440</text>
<text x="365.5" y="132.9" font-family="Liberation Sans" font-size="9" text-anchor="end" fill="#262626" stroke="#262626" stroke-width="0.12" textLength="19.5" lengthAdjust="spacingAndGlyphs">-440</text>
<line x1="406.8" y1="144.4" x2="406.8" y2="146.2" stroke="#ababa6" stroke-width="0.8"/>
<line x1="366.0" y1="104.7" x2="368.0" y2="104.7" stroke="#ababa6" stroke-width="0.8"/>
<text x="406.8" y="153.6" font-family="Liberation Sans" font-size="9" text-anchor="middle" fill="#262626" stroke="#262626" stroke-width="0.12" textLength="19.5" lengthAdjust="spacingAndGlyphs">-220</text>
<text x="365.5" y="107.7" font-family="Liberation Sans" font-size="9" text-anchor="end" fill="#262626" stroke="#262626" stroke-width="0.12" textLength="19.5" lengthAdjust="spacingAndGlyphs">-220</text>
<line x1="432.0" y1="144.4" x2="432.0" y2="146.2" stroke="#ababa6" stroke-width="0.8"/>
<line x1="366.0" y1="79.5" x2="368.0" y2="79.5" stroke="#ababa6" stroke-width="0.8"/>
<text x="432.0" y="153.6" font-family="Liberation Sans" font-size="9" text-anchor="middle" fill="#262626" stroke="#262626" stroke-width="0.12" textLength="5.0" lengthAdjust="spacingAndGlyphs">0</text>
<text x="365.5" y="82.5" font-family="Liberation Sans" font-size="9" text-anchor="end" fill="#262626" stroke="#262626" stroke-width="0.12" textLength="5.0" lengthAdjust="spacingAndGlyphs">0</text>
<line x1="457.2" y1="144.4" x2="457.2" y2="146.2" stroke="#ababa6" stroke-width="0.8"/>
<line x1="366.0" y1="54.3" x2="368.0" y2="54.3" stroke="#ababa6" stroke-width="0.8"/>
<text x="457.2" y="153.6" font-family="Liberation Sans" font-size="9" text-anchor="middle" fill="#262626" stroke="#262626" stroke-width="0.12" textLength="15.5" lengthAdjust="spacingAndGlyphs">220</text>
<text x="365.5" y="57.3" font-family="Liberation Sans" font-size="9" text-anchor="end" fill="#262626" stroke="#262626" stroke-width="0.12" textLength="15.5" lengthAdjust="spacingAndGlyphs">220</text>
<line x1="482.4" y1="144.4" x2="482.4" y2="146.2" stroke="#ababa6" stroke-width="0.8"/>
<line x1="366.0" y1="29.1" x2="368.0" y2="29.1" stroke="#ababa6" stroke-width="0.8"/>
<text x="482.4" y="153.6" font-family="Liberation Sans" font-size="9" text-anchor="middle" fill="#262626" stroke="#262626" stroke-width="0.12" textLength="15.5" lengthAdjust="spacingAndGlyphs">440</text>
<text x="365.5" y="32.1" font-family="Liberation Sans" font-size="9" text-anchor="end" fill="#262626" stroke="#262626" stroke-width="0.12" textLength="15.5" lengthAdjust="spacingAndGlyphs">440</text>
<text x="432.0" y="163.2" font-family="Liberation Sans" font-size="9.8" text-anchor="middle" fill="#262626" stroke="#262626" stroke-width="0.12" textLength="73.2" lengthAdjust="spacingAndGlyphs">Along track (km)</text>
<text transform="translate(342.5,80.0) rotate(-90)" x="0" y="0" font-family="Liberation Sans" font-size="9.8" text-anchor="middle" fill="#262626" stroke="#262626" stroke-width="0.12" textLength="78.5" lengthAdjust="spacingAndGlyphs">Across track (km)</text>
<rect x="151.60" y="175.80" width="43.85" height="11.60" fill="#ecf8c4"/>
<rect x="195.15" y="175.80" width="43.85" height="11.60" fill="#9ce9b5"/>
<rect x="238.70" y="175.80" width="43.85" height="11.60" fill="#3797b8"/>
<rect x="282.25" y="175.80" width="43.85" height="11.60" fill="#0b4a84"/>
<rect x="325.80" y="175.80" width="43.85" height="11.60" fill="#300848"/>
<path d="M369.35,175.80L380.35,181.60L369.35,187.40Z" fill="#6b2f66"/>
<path d="M151.60,175.80H369.35L380.35,181.60L369.35,187.40H151.60Z" fill="none" stroke="#ababa6" stroke-width="0.8"/>
<line x1="151.60" y1="187.40" x2="151.60" y2="189.00" stroke="#ababa6" stroke-width="0.8"/>
<line x1="195.15" y1="187.40" x2="195.15" y2="189.00" stroke="#ababa6" stroke-width="0.8"/>
<line x1="238.70" y1="187.40" x2="238.70" y2="189.00" stroke="#ababa6" stroke-width="0.8"/>
<line x1="282.25" y1="187.40" x2="282.25" y2="189.00" stroke="#ababa6" stroke-width="0.8"/>
<line x1="325.80" y1="187.40" x2="325.80" y2="189.00" stroke="#ababa6" stroke-width="0.8"/>
<line x1="369.35" y1="187.40" x2="369.35" y2="189.00" stroke="#ababa6" stroke-width="0.8"/>
<text x="151.60" y="196.8" font-family="Liberation Sans" font-size="9" text-anchor="middle" fill="#262626" stroke="#262626" stroke-width="0.12" textLength="17.8" lengthAdjust="spacingAndGlyphs">0.00</text>
<text x="195.15" y="196.8" font-family="Liberation Sans" font-size="9" text-anchor="middle" fill="#262626" stroke="#262626" stroke-width="0.12" textLength="17.8" lengthAdjust="spacingAndGlyphs">0.24</text>
<text x="238.70" y="196.8" font-family="Liberation Sans" font-size="9" text-anchor="middle" fill="#262626" stroke="#262626" stroke-width="0.12" textLength="17.8" lengthAdjust="spacingAndGlyphs">0.48</text>
<text x="282.25" y="196.8" font-family="Liberation Sans" font-size="9" text-anchor="middle" fill="#262626" stroke="#262626" stroke-width="0.12" textLength="17.8" lengthAdjust="spacingAndGlyphs">0.72</text>
<text x="325.80" y="196.8" font-family="Liberation Sans" font-size="9" text-anchor="middle" fill="#262626" stroke="#262626" stroke-width="0.12" textLength="17.8" lengthAdjust="spacingAndGlyphs">0.96</text>
<text x="369.35" y="196.8" font-family="Liberation Sans" font-size="9" text-anchor="middle" fill="#262626" stroke="#262626" stroke-width="0.12" textLength="17.8" lengthAdjust="spacingAndGlyphs">1.20</text>
<g transform="translate(244.00,206.80) rotate(0)" font-family="Liberation Sans" fill="#262626" stroke="#262626" stroke-width="0.12"><text x="-0.3" y="0" font-size="9.3" textLength="15" lengthAdjust="spacingAndGlyphs">mm</text><text x="19.3" y="0" font-size="9.3" textLength="5.2" lengthAdjust="spacingAndGlyphs">h</text><text x="25.3" y="-3" font-size="6.2" textLength="7.6" lengthAdjust="spacingAndGlyphs">−1</text></g>
<line x1="37.5" y1="305.60" x2="494.5" y2="305.60" stroke="#d6d6d6" stroke-width="0.7" stroke-dasharray="1.2,0.8"/>
<text x="34.8" y="308.80" font-family="Liberation Sans" font-size="9" text-anchor="end" fill="#262626" stroke="#262626" stroke-width="0.12">0</text>
<line x1="37.5" y1="267.65" x2="494.5" y2="267.65" stroke="#d6d6d6" stroke-width="0.7" stroke-dasharray="1.2,0.8"/>
<text x="34.8" y="270.85" font-family="Liberation Sans" font-size="9" text-anchor="end" fill="#262626" stroke="#262626" stroke-width="0.12">2</text>
<line x1="37.5" y1="229.70" x2="494.5" y2="229.70" stroke="#d6d6d6" stroke-width="0.7" stroke-dasharray="1.2,0.8"/>
<text x="34.8" y="232.90" font-family="Liberation Sans" font-size="9" text-anchor="end" fill="#262626" stroke="#262626" stroke-width="0.12">4</text>
<rect x="37.5" y="211.5" width="457.0" height="98.7" fill="none" stroke="#bdbdbd" stroke-width="0.9"/>
<g transform="translate(26.70,278.80) rotate(-90)" font-family="Liberation Sans" fill="#262626" stroke="#262626" stroke-width="0.12"><text x="-0.3" y="0" font-size="9.3" textLength="15" lengthAdjust="spacingAndGlyphs">mm</text><text x="19.3" y="0" font-size="9.3" textLength="5.2" lengthAdjust="spacingAndGlyphs">h</text><text x="25.3" y="-3" font-size="6.2" textLength="7.6" lengthAdjust="spacingAndGlyphs">−1</text></g>
<line x1="113.70" y1="251.40" x2="113.70" y2="270.75" stroke="#333" stroke-width="0.9"/>
<line x1="113.70" y1="296.40" x2="113.70" y2="305.30" stroke="#333" stroke-width="0.9"/>
<line x1="102.20" y1="251.40" x2="125.20" y2="251.40" stroke="#333" stroke-width="0.9"/>
<line x1="102.20" y1="305.30" x2="125.20" y2="305.30" stroke="#333" stroke-width="0.9"/>
<rect x="90.80" y="270.75" width="45.80" height="25.65" fill="#649fc9" stroke="#666" stroke-width="0.5"/>
<line x1="90.80" y1="283.30" x2="136.60" y2="283.30" stroke="#1a1a1a" stroke-width="1.1"/>
<circle cx="113.70" cy="216.10" r="0.95" fill="#222"/>
<circle cx="113.70" cy="223.90" r="0.95" fill="#222"/>
<circle cx="113.70" cy="228.20" r="0.95" fill="#222"/>
<circle cx="113.70" cy="233.00" r="0.95" fill="#222"/>
<circle cx="113.70" cy="235.70" r="0.95" fill="#222"/>
<circle cx="113.70" cy="237.70" r="0.95" fill="#222"/>
<circle cx="113.70" cy="240.50" r="0.95" fill="#222"/>
<circle cx="113.70" cy="241.80" r="0.95" fill="#222"/>
<circle cx="113.70" cy="243.00" r="0.95" fill="#222"/>
<circle cx="113.70" cy="244.00" r="0.95" fill="#222"/>
<circle cx="113.70" cy="245.00" r="0.95" fill="#222"/>
<circle cx="113.70" cy="246.00" r="0.95" fill="#222"/>
<circle cx="113.70" cy="247.00" r="0.95" fill="#222"/>
<circle cx="113.70" cy="248.00" r="0.95" fill="#222"/>
<circle cx="113.70" cy="249.00" r="0.95" fill="#222"/>
<circle cx="113.70" cy="250.00" r="0.95" fill="#222"/>
<circle cx="113.70" cy="251.00" r="0.95" fill="#222"/>
<circle cx="113.70" cy="305.30" r="0.95" fill="#222"/>
<line x1="113.70" y1="310.20" x2="113.70" y2="311.70" stroke="#bdbdbd" stroke-width="0.8"/>
<text x="113.70" y="319.7" font-family="Liberation Sans" font-size="9.8" stroke="#262626" stroke-width="0.1" text-anchor="middle" fill="#262626" textLength="25.3" lengthAdjust="spacingAndGlyphs">WETC</text>
<line x1="265.95" y1="244.20" x2="265.95" y2="260.70" stroke="#333" stroke-width="0.9"/>
<line x1="265.95" y1="283.70" x2="265.95" y2="299.60" stroke="#333" stroke-width="0.9"/>
<line x1="254.10" y1="244.20" x2="277.80" y2="244.20" stroke="#333" stroke-width="0.9"/>
<line x1="254.10" y1="299.60" x2="277.80" y2="299.60" stroke="#333" stroke-width="0.9"/>
<rect x="242.90" y="260.70" width="46.10" height="23.00" fill="#4747f7" stroke="#666" stroke-width="0.5"/>
<line x1="242.90" y1="271.50" x2="289.00" y2="271.50" stroke="#1a1a1a" stroke-width="1.1"/>
<circle cx="265.95" cy="231.80" r="0.95" fill="#222"/>
<circle cx="265.95" cy="236.00" r="0.95" fill="#222"/>
<circle cx="265.95" cy="240.60" r="0.95" fill="#222"/>
<circle cx="265.95" cy="242.20" r="0.95" fill="#222"/>
<circle cx="265.95" cy="303.50" r="0.95" fill="#222"/>
<circle cx="265.95" cy="304.50" r="0.95" fill="#222"/>
<circle cx="265.95" cy="305.80" r="0.95" fill="#222"/>
<line x1="265.95" y1="310.20" x2="265.95" y2="311.70" stroke="#bdbdbd" stroke-width="0.8"/>
<text x="265.95" y="319.7" font-family="Liberation Sans" font-size="9.8" stroke="#262626" stroke-width="0.1" text-anchor="middle" fill="#262626" textLength="23.3" lengthAdjust="spacingAndGlyphs">SETC</text>
<line x1="418.30" y1="237.40" x2="418.30" y2="255.20" stroke="#333" stroke-width="0.9"/>
<line x1="418.30" y1="276.70" x2="418.30" y2="290.20" stroke="#333" stroke-width="0.9"/>
<line x1="406.70" y1="237.40" x2="429.90" y2="237.40" stroke="#333" stroke-width="0.9"/>
<line x1="406.70" y1="290.20" x2="429.90" y2="290.20" stroke="#333" stroke-width="0.9"/>
<rect x="395.20" y="255.20" width="46.20" height="21.50" fill="#e0666b" stroke="#666" stroke-width="0.5"/>
<line x1="395.20" y1="264.50" x2="441.40" y2="264.50" stroke="#1a1a1a" stroke-width="1.1"/>
<circle cx="418.30" cy="222.10" r="0.95" fill="#222"/>
<circle cx="418.30" cy="223.20" r="0.95" fill="#222"/>
<circle cx="418.30" cy="224.60" r="0.95" fill="#222"/>
<circle cx="418.30" cy="227.90" r="0.95" fill="#222"/>
<circle cx="418.30" cy="231.10" r="0.95" fill="#222"/>
<circle cx="418.30" cy="232.50" r="0.95" fill="#222"/>
<circle cx="418.30" cy="234.30" r="0.95" fill="#222"/>
<circle cx="418.30" cy="293.20" r="0.95" fill="#222"/>
<circle cx="418.30" cy="294.50" r="0.95" fill="#222"/>
<circle cx="418.30" cy="296.50" r="0.95" fill="#222"/>
<circle cx="418.30" cy="298.70" r="0.95" fill="#222"/>
<circle cx="418.30" cy="305.70" r="0.95" fill="#222"/>
<line x1="418.30" y1="310.20" x2="418.30" y2="311.70" stroke="#bdbdbd" stroke-width="0.8"/>
<text x="418.30" y="319.7" font-family="Liberation Sans" font-size="9.8" stroke="#262626" stroke-width="0.1" text-anchor="middle" fill="#262626" textLength="27.5" lengthAdjust="spacingAndGlyphs">DWCC</text>
</svg>
</body></html>
